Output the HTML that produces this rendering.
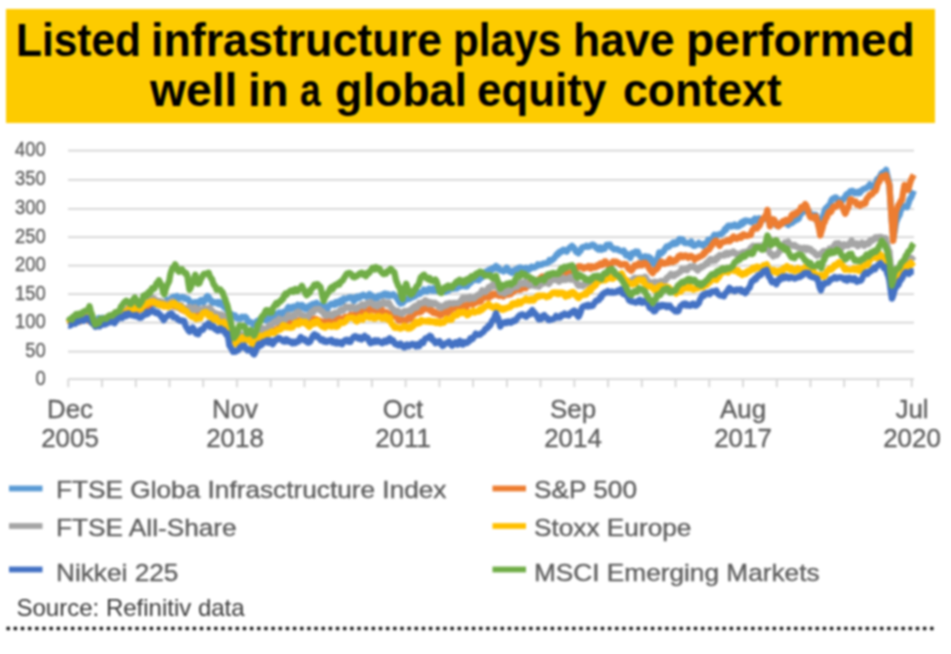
<!DOCTYPE html>
<html><head><meta charset="utf-8"><title>Listed infrastructure plays</title>
<style>
html,body{margin:0;padding:0;background:#fff;}
body{width:951px;height:654px;position:relative;overflow:hidden;font-family:"Liberation Sans",sans-serif;}
#wrap{position:absolute;left:0;top:0;width:951px;height:654px;overflow:hidden;filter:blur(0.95px);}
.t{position:absolute;white-space:nowrap;line-height:1;}
.banner{position:absolute;}
.title{font-weight:bold;font-size:46px;color:#000;transform-origin:0 50%;}
.ylab{font-size:20px;color:#5a5a5a;-webkit-text-stroke:0.3px #5a5a5a;text-align:right;transform:scaleX(0.92);transform-origin:100% 50%;}
.xlab{font-size:25.5px;color:#5c5c5c;-webkit-text-stroke:0.35px #5c5c5c;text-align:center;width:120px;line-height:28.5px;transform:scaleX(1.015);transform-origin:50% 50%;}
.leg{font-size:24.5px;color:#5c5c5c;-webkit-text-stroke:0.35px #5c5c5c;transform:scaleX(1.07);transform-origin:0 50%;}
.src{font-size:24.0px;color:#383838;transform-origin:0 50%;}
</style></head>
<body><div id="wrap">
<div class="banner" style="left:6px;top:9px;width:929px;height:114px;background:#FDCB00"></div>
<div class="t title" style="left:16.23px;top:16.5px;transform:scaleX(0.9225);">Listed</div>
<div class="t title" style="left:150.58px;top:16.5px;transform:scaleX(0.9722);">infrastructure</div>
<div class="t title" style="left:453.44px;top:16.5px;transform:scaleX(0.9204);">plays</div>
<div class="t title" style="left:572.80px;top:16.5px;transform:scaleX(0.9680);">have</div>
<div class="t title" style="left:686.28px;top:16.5px;transform:scaleX(1.0059);">performed</div>
<div class="t title" style="left:150.10px;top:67.0px;transform:scaleX(1.0048);">well</div>
<div class="t title" style="left:247.73px;top:67.0px;transform:scaleX(0.9914);">in</div>
<div class="t title" style="left:300.29px;top:67.0px;transform:scaleX(0.8080);">a</div>
<div class="t title" style="left:334.75px;top:67.0px;transform:scaleX(0.9746);">global</div>
<div class="t title" style="left:477.09px;top:67.0px;transform:scaleX(0.9549);">equity</div>
<div class="t title" style="left:622.96px;top:67.0px;transform:scaleX(0.9696);">context</div>
<svg width="951" height="654" viewBox="0 0 951 654" style="position:absolute;left:0;top:0">
<line x1="68.0" y1="150.70" x2="914.0" y2="150.70" stroke="#D4D4D4" stroke-width="1.80"/>
<line x1="68.0" y1="179.80" x2="914.0" y2="179.80" stroke="#D4D4D4" stroke-width="1.80"/>
<line x1="68.0" y1="208.90" x2="914.0" y2="208.90" stroke="#D4D4D4" stroke-width="1.80"/>
<line x1="68.0" y1="237.10" x2="914.0" y2="237.10" stroke="#D4D4D4" stroke-width="1.80"/>
<line x1="68.0" y1="265.70" x2="914.0" y2="265.70" stroke="#D4D4D4" stroke-width="1.80"/>
<line x1="68.0" y1="294.10" x2="914.0" y2="294.10" stroke="#D4D4D4" stroke-width="1.80"/>
<line x1="68.0" y1="322.70" x2="914.0" y2="322.70" stroke="#D4D4D4" stroke-width="1.80"/>
<line x1="68.0" y1="351.60" x2="914.0" y2="351.60" stroke="#D4D4D4" stroke-width="1.80"/>
<line x1="68.0" y1="379.20" x2="914.0" y2="379.20" stroke="#D4D4D4" stroke-width="1.80"/>
<line x1="68.30" y1="379.20" x2="68.30" y2="387.20" stroke="#D4D4D4" stroke-width="1.80"/>
<line x1="102.04" y1="379.20" x2="102.04" y2="387.20" stroke="#D4D4D4" stroke-width="1.80"/>
<line x1="135.77" y1="379.20" x2="135.77" y2="387.20" stroke="#D4D4D4" stroke-width="1.80"/>
<line x1="169.51" y1="379.20" x2="169.51" y2="387.20" stroke="#D4D4D4" stroke-width="1.80"/>
<line x1="203.24" y1="379.20" x2="203.24" y2="387.20" stroke="#D4D4D4" stroke-width="1.80"/>
<line x1="236.98" y1="379.20" x2="236.98" y2="387.20" stroke="#D4D4D4" stroke-width="1.80"/>
<line x1="270.72" y1="379.20" x2="270.72" y2="387.20" stroke="#D4D4D4" stroke-width="1.80"/>
<line x1="304.45" y1="379.20" x2="304.45" y2="387.20" stroke="#D4D4D4" stroke-width="1.80"/>
<line x1="338.19" y1="379.20" x2="338.19" y2="387.20" stroke="#D4D4D4" stroke-width="1.80"/>
<line x1="371.92" y1="379.20" x2="371.92" y2="387.20" stroke="#D4D4D4" stroke-width="1.80"/>
<line x1="405.66" y1="379.20" x2="405.66" y2="387.20" stroke="#D4D4D4" stroke-width="1.80"/>
<line x1="439.40" y1="379.20" x2="439.40" y2="387.20" stroke="#D4D4D4" stroke-width="1.80"/>
<line x1="473.13" y1="379.20" x2="473.13" y2="387.20" stroke="#D4D4D4" stroke-width="1.80"/>
<line x1="506.87" y1="379.20" x2="506.87" y2="387.20" stroke="#D4D4D4" stroke-width="1.80"/>
<line x1="540.60" y1="379.20" x2="540.60" y2="387.20" stroke="#D4D4D4" stroke-width="1.80"/>
<line x1="574.34" y1="379.20" x2="574.34" y2="387.20" stroke="#D4D4D4" stroke-width="1.80"/>
<line x1="608.08" y1="379.20" x2="608.08" y2="387.20" stroke="#D4D4D4" stroke-width="1.80"/>
<line x1="641.81" y1="379.20" x2="641.81" y2="387.20" stroke="#D4D4D4" stroke-width="1.80"/>
<line x1="675.55" y1="379.20" x2="675.55" y2="387.20" stroke="#D4D4D4" stroke-width="1.80"/>
<line x1="709.28" y1="379.20" x2="709.28" y2="387.20" stroke="#D4D4D4" stroke-width="1.80"/>
<line x1="743.02" y1="379.20" x2="743.02" y2="387.20" stroke="#D4D4D4" stroke-width="1.80"/>
<line x1="776.76" y1="379.20" x2="776.76" y2="387.20" stroke="#D4D4D4" stroke-width="1.80"/>
<line x1="810.49" y1="379.20" x2="810.49" y2="387.20" stroke="#D4D4D4" stroke-width="1.80"/>
<line x1="844.23" y1="379.20" x2="844.23" y2="387.20" stroke="#D4D4D4" stroke-width="1.80"/>
<line x1="877.96" y1="379.20" x2="877.96" y2="387.20" stroke="#D4D4D4" stroke-width="1.80"/>
<line x1="911.70" y1="379.20" x2="911.70" y2="387.20" stroke="#D4D4D4" stroke-width="1.80"/>
<path d="M68.6 320.7 L69.7 320.6 L70.7 321.5 L71.8 321.5 L72.9 321.4 L73.9 320.0 L75.0 320.4 L76.0 319.7 L77.0 317.7 L78.0 317.8 L79.0 316.4 L80.0 318.7 L81.0 320.0 L82.0 318.4 L83.0 316.7 L84.0 317.0 L85.0 314.8 L86.0 313.1 L87.0 311.9 L88.0 311.4 L89.0 313.8 L90.0 317.0 L91.0 316.6 L92.0 319.6 L93.0 320.5 L94.0 322.7 L95.0 324.2 L96.0 321.6 L97.0 321.7 L98.0 319.7 L99.0 317.9 L100.0 318.2 L101.0 319.5 L102.0 319.3 L103.0 317.8 L104.0 319.3 L105.0 320.2 L106.0 318.2 L107.0 317.7 L108.0 318.1 L109.0 319.1 L110.0 316.8 L111.0 317.0 L112.0 318.3 L113.0 317.6 L114.0 317.5 L115.0 317.5 L116.0 316.4 L117.0 314.8 L118.0 314.9 L119.0 314.6 L120.0 313.6 L121.0 314.7 L122.0 313.5 L123.0 313.1 L124.0 313.7 L125.0 314.1 L126.0 314.5 L127.0 313.7 L128.0 311.7 L129.0 312.6 L130.0 313.2 L131.0 312.8 L132.0 312.6 L133.0 311.6 L134.0 310.8 L135.0 310.6 L136.0 308.9 L137.0 309.7 L138.0 310.8 L139.0 308.7 L140.0 309.7 L141.0 309.8 L142.0 307.6 L143.0 306.1 L144.0 307.0 L145.0 306.1 L146.0 305.7 L147.0 306.5 L148.0 306.9 L149.0 307.4 L150.0 306.8 L151.0 305.7 L152.0 303.8 L153.0 303.0 L154.0 302.8 L155.0 303.8 L156.0 304.9 L157.0 303.6 L158.0 303.5 L159.0 305.3 L160.0 304.2 L161.0 304.4 L162.0 303.9 L163.0 303.6 L164.0 302.6 L165.0 302.0 L166.0 302.1 L167.0 299.9 L168.0 301.1 L169.0 301.9 L170.0 299.3 L171.0 298.3 L172.0 297.9 L173.0 297.0 L174.0 296.6 L175.0 298.1 L176.0 296.9 L177.0 296.0 L178.0 298.6 L179.0 297.9 L180.0 298.0 L181.0 297.7 L182.0 297.0 L183.0 297.7 L184.0 297.4 L185.0 298.9 L186.0 298.8 L187.0 298.6 L188.0 299.0 L189.0 300.2 L190.0 303.0 L191.0 303.2 L192.1 304.7 L193.1 303.5 L194.2 302.4 L195.2 303.5 L196.3 302.3 L197.3 304.5 L198.3 303.1 L199.3 301.6 L200.3 300.6 L201.3 300.0 L202.4 301.7 L203.4 302.7 L204.4 301.4 L205.4 299.3 L206.4 297.2 L207.4 296.1 L208.5 296.9 L209.6 298.9 L210.7 300.1 L211.7 301.8 L212.8 302.8 L213.9 301.9 L215.0 302.6 L216.0 302.3 L217.1 303.3 L218.2 302.0 L219.2 304.3 L220.3 302.2 L221.4 304.1 L222.6 304.5 L223.7 306.8 L224.9 306.2 L226.0 308.9 L227.0 308.2 L228.0 311.1 L229.0 313.3 L230.0 314.5 L231.0 313.8 L232.0 314.6 L233.0 315.5 L234.0 315.6 L235.2 315.4 L236.3 318.0 L237.4 318.6 L238.6 318.1 L239.7 318.5 L240.8 318.6 L241.9 316.7 L243.0 317.1 L244.1 317.2 L245.2 316.8 L246.4 317.9 L247.5 321.0 L248.7 322.2 L249.8 321.6 L251.0 322.2 L252.2 323.1 L253.3 324.7 L254.5 325.5 L255.7 323.0 L256.8 321.3 L258.0 321.7 L259.0 320.1 L260.0 319.4 L261.0 318.7 L262.0 318.0 L263.0 319.3 L264.0 318.0 L265.0 318.7 L266.0 320.4 L267.0 318.1 L268.2 319.1 L269.5 318.8 L270.7 317.1 L271.7 318.4 L272.8 318.1 L273.8 316.3 L274.9 316.9 L275.9 314.1 L277.0 314.9 L278.0 315.0 L279.1 312.5 L280.1 313.8 L281.2 313.9 L282.2 314.2 L283.3 311.9 L284.3 312.1 L285.4 312.2 L286.4 310.7 L287.5 308.6 L288.5 307.2 L289.6 308.1 L290.6 308.7 L291.7 307.3 L292.7 308.3 L293.7 306.5 L294.7 307.0 L295.8 307.2 L296.8 306.1 L297.8 304.8 L298.8 307.0 L299.9 307.9 L300.9 307.4 L301.9 304.9 L303.0 305.8 L304.1 308.1 L305.2 308.8 L306.3 309.1 L307.4 307.0 L308.4 307.3 L309.4 305.9 L310.5 307.7 L311.5 305.0 L312.5 304.1 L313.5 305.8 L314.6 303.8 L315.6 303.2 L316.6 302.7 L317.9 305.0 L319.2 305.7 L320.5 307.1 L321.5 305.6 L322.5 304.7 L323.5 305.3 L324.5 307.4 L325.5 308.3 L326.5 309.3 L327.5 308.8 L328.6 306.0 L329.6 305.2 L330.6 304.2 L331.6 303.6 L332.7 304.6 L333.7 304.1 L334.7 304.8 L335.7 302.2 L336.7 303.8 L337.8 301.8 L338.8 302.5 L339.8 303.0 L340.8 300.2 L341.9 300.2 L342.9 301.6 L343.9 298.6 L344.9 299.0 L345.9 298.9 L346.9 298.8 L347.9 298.0 L349.0 297.5 L350.0 297.6 L351.0 297.4 L352.0 297.6 L353.0 299.9 L354.0 301.0 L355.0 299.0 L356.1 297.0 L357.1 296.6 L358.1 298.3 L359.1 296.7 L360.2 297.4 L361.2 295.7 L362.2 295.5 L363.2 294.8 L364.3 295.9 L365.3 295.6 L366.4 296.8 L367.4 296.5 L368.5 295.9 L369.5 294.1 L370.7 296.7 L372.0 295.6 L373.2 296.9 L374.3 298.6 L375.3 298.7 L376.4 297.0 L377.4 297.9 L378.5 295.9 L379.5 295.7 L380.6 295.5 L381.6 295.9 L382.7 294.5 L383.7 294.1 L384.8 293.5 L385.8 295.3 L386.9 295.6 L387.9 294.2 L389.0 295.5 L390.1 295.8 L391.2 294.8 L392.3 295.3 L393.4 294.3 L394.6 295.8 L395.9 297.0 L397.1 298.5 L398.2 300.4 L399.4 302.4 L400.6 303.6 L401.7 302.1 L402.8 303.0 L403.8 301.0 L404.9 300.8 L406.0 300.0 L407.0 298.8 L408.1 298.6 L409.1 299.1 L410.2 298.4 L411.2 297.1 L412.3 297.4 L413.3 297.0 L414.4 295.1 L415.4 296.1 L416.5 294.3 L417.5 291.7 L418.6 293.5 L419.6 294.1 L420.7 292.7 L421.7 292.5 L422.8 292.0 L423.8 289.6 L424.9 290.6 L425.9 290.5 L427.0 291.5 L428.0 290.2 L429.1 288.6 L430.1 289.4 L431.2 289.3 L432.3 290.6 L433.4 288.3 L434.5 289.5 L435.6 291.0 L436.8 289.7 L437.9 288.8 L439.1 290.1 L440.2 291.5 L441.3 291.7 L442.3 291.2 L443.4 290.1 L444.5 290.7 L445.5 291.9 L446.6 290.7 L447.7 289.3 L448.7 290.5 L449.8 288.1 L450.9 288.0 L451.9 288.7 L453.0 288.8 L454.0 288.7 L455.0 288.3 L456.0 287.2 L457.0 288.4 L458.0 285.5 L459.0 285.3 L460.0 285.3 L461.0 286.4 L462.0 285.5 L463.0 284.8 L464.0 285.3 L465.0 286.4 L466.1 285.8 L467.1 286.4 L468.2 285.0 L469.2 283.0 L470.3 283.2 L471.4 282.0 L472.4 279.8 L473.5 279.6 L474.6 278.2 L475.6 279.1 L476.7 280.2 L477.8 279.9 L478.8 280.3 L479.9 277.3 L480.9 277.9 L482.0 277.6 L483.1 275.1 L484.2 274.3 L485.3 272.3 L486.3 271.4 L487.4 271.3 L488.5 270.3 L489.6 269.5 L490.7 270.1 L491.7 270.0 L492.8 267.8 L493.9 267.9 L494.9 268.5 L496.0 265.9 L497.1 268.4 L498.2 267.6 L499.2 269.2 L500.3 270.3 L501.4 270.1 L502.5 270.7 L503.6 271.5 L504.6 270.0 L505.6 269.6 L506.7 267.6 L507.8 269.1 L508.9 271.2 L510.0 271.9 L511.0 271.1 L512.1 272.9 L513.2 271.9 L514.3 270.3 L515.3 269.6 L516.4 271.0 L517.4 269.3 L518.5 267.8 L519.5 267.6 L520.6 267.5 L521.7 268.4 L522.8 268.8 L523.8 268.9 L524.9 268.1 L526.0 267.8 L527.1 269.7 L528.1 269.0 L529.2 269.7 L530.3 268.5 L531.3 266.6 L532.4 266.9 L533.5 267.6 L534.6 267.5 L535.6 266.8 L536.7 266.2 L537.8 264.4 L538.8 265.3 L539.9 264.6 L541.0 264.8 L542.0 264.6 L543.1 263.6 L544.2 263.4 L545.2 263.4 L546.3 263.3 L547.4 262.6 L548.5 262.4 L549.5 260.0 L550.6 260.9 L551.7 260.3 L552.7 259.4 L553.8 258.6 L554.9 257.3 L555.9 255.7 L557.0 254.1 L558.1 254.5 L559.1 252.0 L560.2 251.5 L561.3 252.0 L562.4 250.7 L563.5 249.7 L564.5 250.0 L565.6 250.8 L566.7 251.6 L567.8 250.0 L568.8 248.8 L569.9 247.4 L570.9 247.4 L572.0 245.8 L573.1 247.2 L574.2 247.9 L575.2 250.4 L576.3 252.2 L577.4 252.3 L578.5 253.2 L579.5 250.6 L580.6 250.8 L581.6 248.1 L582.7 247.1 L583.9 247.0 L585.2 246.8 L586.4 245.7 L587.5 246.8 L588.5 246.7 L589.6 246.4 L590.7 245.8 L591.8 244.8 L592.9 244.6 L593.9 245.6 L595.0 246.0 L596.1 247.9 L597.1 248.2 L598.2 249.5 L599.3 248.1 L600.3 247.4 L601.4 249.8 L602.5 248.5 L603.5 248.1 L604.6 248.8 L605.7 246.3 L606.7 244.8 L607.8 245.0 L608.9 244.9 L610.0 244.6 L611.0 247.0 L612.1 248.0 L613.2 248.4 L614.3 249.6 L615.4 249.0 L616.4 249.1 L617.5 249.1 L618.5 250.3 L619.6 250.4 L620.7 251.0 L621.7 251.4 L622.8 251.8 L623.9 250.7 L624.9 253.1 L626.0 255.3 L627.1 253.8 L628.2 255.7 L629.2 256.5 L630.3 257.9 L631.4 254.9 L632.4 253.0 L633.5 253.5 L634.6 253.5 L635.6 251.6 L636.7 252.6 L637.8 251.8 L638.9 254.5 L640.0 256.0 L641.0 256.9 L642.1 258.2 L643.2 257.1 L644.3 257.8 L645.3 256.2 L646.4 258.2 L647.4 257.5 L648.5 256.8 L649.5 259.2 L650.6 258.2 L651.7 260.6 L652.8 263.5 L653.9 264.1 L655.0 261.9 L656.0 260.6 L657.1 259.0 L658.1 256.3 L659.2 252.4 L660.3 253.9 L661.3 253.5 L662.4 252.1 L663.5 251.6 L664.5 249.6 L665.6 248.0 L666.7 246.4 L667.8 246.5 L668.9 246.9 L669.9 245.3 L671.0 244.4 L672.1 244.4 L673.2 242.6 L674.2 244.1 L675.3 242.3 L676.3 243.7 L677.4 242.8 L678.4 241.1 L679.5 239.0 L680.6 240.4 L681.6 239.1 L682.7 239.5 L683.8 242.2 L684.9 243.1 L685.9 243.2 L687.0 242.9 L688.1 242.8 L689.1 243.2 L690.2 243.9 L691.3 241.4 L692.4 243.8 L693.5 245.8 L694.5 245.9 L695.6 245.4 L696.7 244.5 L697.8 244.3 L698.8 242.9 L699.9 244.3 L701.0 244.6 L702.0 245.1 L703.1 245.7 L704.1 243.6 L705.2 243.7 L706.2 243.5 L707.2 242.5 L708.2 239.8 L709.3 241.0 L710.3 240.2 L711.3 239.1 L712.3 239.5 L713.3 236.8 L714.4 234.7 L715.4 235.5 L716.4 235.8 L717.5 235.0 L718.5 234.3 L719.6 234.4 L720.7 234.3 L721.7 233.3 L722.8 232.7 L723.9 231.3 L724.9 229.0 L726.0 229.7 L727.1 227.1 L728.2 225.8 L729.2 226.2 L730.3 225.5 L731.4 226.6 L732.5 225.5 L733.5 225.5 L734.6 224.5 L735.7 226.3 L736.7 225.5 L737.8 226.4 L738.9 226.3 L739.9 225.0 L741.0 222.7 L742.1 224.3 L743.2 221.5 L744.2 222.6 L745.3 220.5 L746.4 220.6 L747.4 220.8 L748.5 220.8 L749.6 221.4 L750.7 222.0 L751.7 222.4 L752.8 220.4 L753.9 219.8 L754.9 218.7 L756.0 220.6 L757.1 219.8 L758.1 220.8 L759.2 218.3 L760.4 219.5 L761.6 219.9 L762.8 219.6 L764.0 219.3 L765.1 217.4 L766.3 216.2 L767.4 212.8 L768.7 218.5 L770.0 225.8 L771.0 222.5 L772.0 220.2 L773.0 220.1 L774.1 220.4 L775.3 221.5 L776.4 225.4 L777.5 225.0 L778.5 226.1 L779.6 225.2 L780.7 223.4 L781.7 223.5 L782.8 222.5 L783.9 223.2 L784.9 222.1 L786.0 221.1 L787.1 223.7 L788.2 225.0 L789.2 223.3 L790.3 222.3 L791.4 223.2 L792.4 222.7 L793.5 221.0 L794.5 221.0 L795.6 220.4 L796.7 219.8 L797.8 219.4 L798.9 218.4 L799.9 214.5 L801.0 214.2 L802.1 211.7 L803.1 212.2 L804.2 211.6 L805.2 209.7 L806.3 207.5 L807.4 209.9 L808.5 210.8 L809.5 213.6 L810.6 217.0 L811.7 214.6 L812.8 214.7 L813.8 216.3 L814.9 215.0 L816.0 215.0 L817.1 220.4 L818.1 224.1 L819.2 226.7 L820.3 230.4 L821.4 224.2 L822.4 218.6 L823.5 214.5 L824.6 211.0 L825.6 208.4 L826.7 208.1 L827.8 206.3 L828.8 205.4 L829.9 205.0 L830.9 201.5 L832.0 199.3 L833.1 198.5 L834.2 198.1 L835.2 197.4 L836.3 197.6 L837.4 200.1 L838.5 201.3 L839.6 200.8 L840.6 199.8 L841.7 199.8 L842.7 200.4 L843.8 198.0 L844.9 197.7 L846.0 195.0 L847.0 194.0 L848.1 193.5 L849.2 193.3 L850.3 191.2 L851.4 191.5 L852.4 190.8 L853.5 191.3 L854.6 193.2 L855.7 192.3 L856.7 192.2 L857.8 193.2 L858.9 191.5 L860.0 192.8 L861.1 191.2 L862.2 190.0 L863.4 189.1 L864.5 188.8 L865.6 188.3 L866.7 187.6 L867.8 187.1 L868.8 185.8 L869.9 184.4 L870.9 186.3 L872.0 187.0 L873.0 186.6 L874.0 185.1 L875.0 185.7 L876.0 182.6 L877.2 179.1 L878.3 179.4 L879.5 177.2 L880.6 175.1 L881.8 173.0 L882.9 172.7 L884.0 171.9 L885.0 171.3 L886.1 169.8 L887.2 175.1 L888.3 179.7 L889.4 185.0 L890.6 204.6 L891.9 221.8 L893.5 237.7 L894.8 230.4 L896.0 223.0 L897.2 219.5 L898.4 216.8 L899.5 215.1 L900.7 210.4 L901.8 208.8 L902.8 207.6 L903.9 206.1 L904.9 206.5 L906.0 206.3 L907.0 207.2 L908.0 204.8 L909.0 201.6 L910.1 198.5 L911.1 197.8 L912.1 195.0 L913.8 190.6" fill="none" stroke="#5B9BD5" stroke-width="6.30" stroke-linejoin="round" stroke-linecap="butt"/>
<path d="M68.6 322.3 L69.6 320.9 L70.7 322.8 L71.8 323.6 L72.8 322.3 L73.8 322.2 L74.9 320.5 L76.0 319.5 L77.0 319.1 L78.1 320.4 L79.2 319.3 L80.3 321.4 L81.4 319.3 L82.4 318.6 L83.5 317.8 L84.6 319.8 L85.7 319.4 L86.8 319.5 L87.8 319.7 L88.8 321.1 L89.9 321.3 L90.9 321.0 L91.9 321.9 L93.0 322.2 L94.0 321.9 L95.0 324.5 L96.0 324.7 L97.0 324.6 L98.0 325.1 L99.0 323.4 L100.0 322.2 L101.0 321.6 L102.0 320.9 L103.0 321.3 L104.0 319.1 L105.0 319.3 L106.0 319.6 L107.0 318.9 L108.0 317.2 L109.0 318.6 L110.0 316.7 L111.0 317.5 L112.0 316.3 L113.0 314.8 L114.0 314.2 L115.0 313.2 L116.0 312.7 L117.0 314.0 L118.0 314.7 L119.0 313.4 L120.0 313.5 L121.0 312.7 L122.0 312.0 L123.0 313.0 L124.0 311.4 L125.0 312.4 L126.0 312.1 L127.0 311.8 L128.0 309.1 L129.0 307.7 L130.0 306.6 L131.0 307.0 L132.0 309.2 L133.0 310.3 L134.0 310.7 L135.0 308.2 L136.0 309.0 L137.0 309.6 L138.0 310.0 L139.0 310.1 L140.0 307.8 L141.0 306.6 L142.0 308.1 L143.0 308.2 L144.0 308.6 L145.0 306.9 L146.0 307.3 L147.0 304.6 L148.0 305.8 L149.0 305.9 L150.0 303.8 L151.0 301.4 L152.0 301.5 L153.0 302.7 L154.0 302.2 L155.0 301.0 L156.0 301.3 L157.0 303.5 L158.0 302.2 L159.0 304.7 L160.0 303.7 L161.0 303.1 L162.0 302.6 L163.0 305.2 L164.0 306.4 L165.0 304.9 L166.0 303.3 L167.0 304.4 L168.0 305.9 L169.0 303.5 L170.0 304.4 L171.0 305.7 L172.0 305.0 L173.0 305.4 L174.0 306.7 L175.0 305.5 L176.0 305.2 L177.0 306.6 L178.0 307.2 L179.0 307.6 L180.0 307.3 L181.0 309.5 L182.0 308.5 L183.0 309.5 L184.0 310.9 L185.0 310.1 L186.0 308.5 L187.0 308.4 L188.0 307.9 L189.0 308.1 L190.0 308.2 L191.0 309.2 L192.0 309.9 L193.0 310.8 L194.0 312.1 L195.0 313.1 L196.0 313.7 L197.0 313.1 L198.1 313.4 L199.1 313.1 L200.2 311.3 L201.2 311.7 L202.3 311.0 L203.3 311.8 L204.4 312.4 L205.4 310.8 L206.5 310.5 L207.6 311.3 L208.6 311.5 L209.7 311.0 L210.8 311.0 L211.9 314.8 L212.9 316.3 L214.0 316.3 L215.0 317.1 L216.0 316.2 L217.0 317.4 L218.0 319.1 L219.0 319.5 L220.0 318.8 L221.0 320.4 L222.0 321.2 L223.0 318.6 L224.0 318.6 L225.0 320.6 L226.0 322.0 L227.0 324.9 L228.0 325.6 L229.0 329.6 L230.0 333.4 L231.0 333.7 L232.0 337.2 L233.0 337.3 L234.0 339.1 L235.0 340.7 L236.0 343.1 L237.0 342.7 L238.0 340.7 L239.0 340.7 L240.0 338.4 L241.0 338.9 L242.0 337.9 L243.0 337.5 L244.0 337.2 L245.0 337.2 L246.0 339.4 L247.0 338.3 L248.0 338.3 L249.0 338.4 L250.0 338.6 L251.0 341.0 L252.0 342.1 L253.0 343.1 L254.0 343.2 L255.0 341.1 L256.0 338.0 L257.0 336.3 L258.0 336.1 L259.0 336.8 L260.0 337.8 L261.0 336.7 L262.0 334.8 L263.0 334.9 L264.0 336.0 L265.0 334.3 L266.0 335.4 L267.0 335.7 L268.0 334.5 L269.0 333.4 L270.0 331.3 L271.0 330.0 L272.0 328.8 L273.0 329.7 L274.0 330.2 L275.0 331.1 L276.0 329.9 L277.0 330.3 L278.0 328.1 L279.1 325.9 L280.1 324.3 L281.2 324.1 L282.2 324.7 L283.3 326.5 L284.3 324.8 L285.4 323.5 L286.4 324.5 L287.5 323.7 L288.5 323.7 L289.6 322.1 L290.6 323.7 L291.7 324.6 L292.7 324.4 L293.7 325.0 L294.8 323.0 L295.8 320.8 L296.8 320.5 L297.9 322.4 L298.9 321.9 L299.9 320.5 L300.9 319.5 L302.0 319.0 L303.0 319.6 L304.0 322.0 L305.0 323.3 L306.0 323.7 L307.0 324.0 L308.0 322.2 L309.0 323.5 L310.1 321.5 L311.2 321.3 L312.3 319.1 L313.3 320.8 L314.4 318.8 L315.5 319.1 L316.6 319.2 L317.7 320.2 L318.9 321.1 L320.0 320.7 L321.0 321.7 L322.0 322.8 L323.0 322.2 L324.0 323.2 L325.0 323.3 L326.0 320.5 L327.0 321.2 L328.0 319.4 L329.0 320.5 L330.0 320.1 L331.0 321.6 L332.0 319.3 L333.0 321.2 L334.1 318.9 L335.1 317.6 L336.1 316.6 L337.1 316.4 L338.2 319.3 L339.2 320.3 L340.2 321.0 L341.2 318.5 L342.3 318.7 L343.3 319.1 L344.4 318.9 L345.4 316.9 L346.5 318.2 L347.5 317.9 L348.5 317.4 L349.5 315.6 L350.6 314.9 L351.6 315.6 L352.6 315.0 L353.6 314.5 L354.7 315.6 L355.7 314.2 L356.7 314.9 L357.7 312.4 L358.7 312.6 L359.8 313.3 L360.8 311.1 L361.8 312.2 L362.8 311.3 L363.9 311.9 L364.9 312.1 L365.9 310.4 L366.9 312.3 L367.9 310.8 L368.9 309.5 L369.9 309.8 L370.9 308.5 L371.9 307.9 L372.9 309.8 L373.9 308.4 L374.9 309.1 L375.9 310.7 L376.9 310.0 L378.0 311.1 L379.1 311.9 L380.1 310.0 L381.2 308.7 L382.3 310.6 L383.4 312.0 L384.5 312.8 L385.6 312.9 L386.6 312.2 L387.7 313.6 L388.8 313.6 L389.9 314.4 L390.9 315.7 L392.0 313.6 L393.1 315.4 L394.1 316.1 L395.2 314.7 L396.4 316.0 L397.7 319.0 L398.9 320.6 L400.0 320.5 L401.1 319.3 L402.2 319.4 L403.3 320.5 L404.4 321.2 L405.5 320.3 L406.6 320.5 L407.7 318.2 L408.8 317.2 L409.9 318.1 L410.9 318.8 L412.0 316.3 L413.0 314.7 L414.1 314.7 L415.1 313.6 L416.2 312.1 L417.2 311.0 L418.3 311.2 L419.3 312.4 L420.4 310.6 L421.4 311.7 L422.5 309.4 L423.5 308.5 L424.6 309.3 L425.6 307.8 L426.7 308.2 L427.7 307.9 L428.8 308.0 L429.8 310.5 L430.9 309.3 L431.9 310.8 L432.9 312.6 L434.0 311.5 L435.0 313.2 L436.0 312.5 L437.1 313.9 L438.1 314.1 L439.2 313.7 L440.2 315.6 L441.2 315.2 L442.2 313.4 L443.3 313.2 L444.3 311.8 L445.3 310.9 L446.3 312.5 L447.4 313.3 L448.4 310.6 L449.5 311.6 L450.5 311.1 L451.6 308.1 L452.6 306.6 L453.7 306.7 L454.7 308.1 L455.8 308.6 L457.2 306.3 L458.6 305.4 L459.7 307.0 L460.7 305.3 L461.8 304.0 L462.9 304.4 L464.0 305.6 L465.0 306.9 L466.1 307.7 L467.2 305.0 L468.2 304.1 L469.3 303.4 L470.4 304.1 L471.4 303.5 L472.5 304.7 L473.6 304.0 L474.6 303.3 L475.7 302.8 L476.7 300.6 L477.8 301.5 L478.9 301.8 L479.9 301.7 L481.0 301.3 L482.1 298.6 L483.1 296.6 L484.2 296.4 L485.3 297.3 L486.4 295.8 L487.4 297.2 L488.5 297.7 L489.6 297.3 L490.6 296.2 L491.7 294.3 L492.8 295.5 L493.9 293.7 L494.9 293.7 L496.0 294.6 L497.1 295.1 L498.1 294.0 L499.2 295.9 L500.3 295.1 L501.4 295.1 L502.4 295.3 L503.5 296.5 L504.6 294.1 L505.6 294.7 L506.7 294.2 L507.8 294.8 L508.9 293.4 L510.0 293.1 L511.0 294.1 L512.1 291.1 L513.2 292.0 L514.2 291.2 L515.3 289.9 L516.4 289.0 L517.4 288.1 L518.5 289.6 L519.5 288.0 L520.6 289.7 L521.7 288.8 L522.7 287.3 L523.8 288.0 L524.8 287.5 L525.9 288.1 L526.9 285.6 L528.0 286.0 L529.0 283.6 L530.0 282.6 L531.0 282.6 L532.0 282.1 L533.0 281.4 L534.0 281.9 L535.0 282.6 L536.0 281.4 L537.0 280.7 L538.0 281.1 L539.1 279.0 L540.1 280.3 L541.1 277.3 L542.1 276.6 L543.2 278.1 L544.4 276.8 L545.5 276.4 L546.6 275.5 L547.7 277.9 L548.9 278.9 L550.0 276.5 L551.0 276.6 L552.0 275.2 L553.0 273.9 L554.0 273.8 L555.0 275.4 L556.0 275.5 L557.0 274.6 L558.1 275.2 L559.2 273.6 L560.2 273.6 L561.3 272.7 L562.4 274.7 L563.5 274.1 L564.6 274.9 L565.6 273.9 L566.7 273.6 L567.8 273.9 L568.8 272.8 L569.9 273.2 L570.9 273.9 L572.0 271.7 L573.0 270.7 L574.0 269.3 L575.1 269.6 L576.2 267.9 L577.4 268.0 L578.5 266.3 L579.6 266.9 L580.6 266.2 L581.7 267.3 L582.8 268.0 L583.8 268.7 L584.9 267.2 L586.2 267.7 L587.5 267.7 L588.6 266.2 L589.6 267.8 L590.7 268.6 L591.8 266.2 L592.9 267.2 L593.9 267.5 L595.0 267.5 L596.1 267.2 L597.1 265.3 L598.2 266.0 L599.3 265.7 L600.3 263.4 L601.4 264.7 L602.5 265.0 L603.5 262.8 L604.6 261.5 L605.7 261.4 L606.8 263.1 L607.9 264.4 L608.9 265.9 L610.0 266.6 L611.1 264.2 L612.1 262.7 L613.2 261.4 L614.2 261.6 L615.3 261.8 L616.4 261.6 L617.4 262.9 L618.5 262.8 L619.6 263.9 L620.6 264.8 L621.7 265.1 L622.8 264.5 L623.9 263.9 L624.9 264.2 L626.0 264.2 L627.1 266.1 L628.2 268.4 L629.2 269.6 L630.3 269.3 L631.4 270.8 L632.5 269.5 L633.5 267.1 L634.6 265.2 L635.7 265.0 L636.7 266.1 L637.8 265.4 L638.9 263.3 L639.9 265.2 L641.0 265.5 L642.1 265.3 L643.2 263.0 L644.2 262.9 L645.3 262.9 L646.4 264.6 L647.4 264.9 L648.5 267.4 L649.6 269.2 L650.7 270.9 L651.7 271.9 L652.8 273.2 L653.9 270.1 L654.9 270.3 L656.0 269.9 L657.0 269.0 L658.1 267.4 L659.2 264.9 L660.2 263.5 L661.3 261.5 L662.4 262.8 L663.5 263.5 L664.5 263.9 L665.6 262.6 L666.7 262.8 L667.8 263.0 L668.8 260.5 L669.9 258.8 L671.0 260.8 L672.1 262.1 L673.1 261.9 L674.2 261.3 L675.3 259.8 L676.3 260.4 L677.4 258.4 L678.5 256.2 L679.5 257.5 L680.6 255.2 L681.7 256.7 L682.8 257.2 L683.8 255.6 L684.9 255.9 L686.0 255.4 L687.1 257.1 L688.1 257.9 L689.2 256.8 L690.3 255.8 L691.3 256.1 L692.4 256.7 L693.5 257.8 L694.6 259.8 L695.6 258.8 L696.7 257.7 L697.8 257.8 L698.8 256.7 L699.9 256.9 L701.0 256.2 L702.0 255.1 L703.1 255.0 L704.1 252.5 L705.2 253.0 L706.2 250.7 L707.2 250.3 L708.2 250.0 L709.3 249.4 L710.3 247.3 L711.3 246.3 L712.3 244.6 L713.4 243.0 L714.4 242.0 L715.4 240.8 L716.5 240.6 L717.5 242.4 L718.6 244.5 L719.6 245.9 L720.7 244.1 L721.8 242.4 L722.9 241.7 L723.9 241.8 L725.0 241.8 L726.1 241.2 L727.1 240.2 L728.2 241.2 L729.3 241.3 L730.4 240.8 L731.4 238.5 L732.5 239.0 L733.5 236.5 L734.6 238.3 L735.7 238.2 L736.7 238.9 L737.8 237.4 L738.9 237.7 L739.9 236.2 L741.0 237.8 L742.1 236.0 L743.2 234.4 L744.2 234.5 L745.3 236.0 L746.4 235.5 L747.4 235.9 L748.5 235.3 L749.6 235.0 L750.7 235.1 L751.7 231.6 L752.8 229.5 L753.9 228.7 L754.9 227.4 L756.0 227.8 L757.1 228.4 L758.1 226.4 L759.2 226.1 L760.3 223.9 L761.4 221.1 L762.4 219.7 L763.5 218.3 L764.8 216.7 L766.1 215.3 L767.4 209.9 L768.6 218.2 L769.9 226.3 L771.0 224.1 L772.1 219.9 L773.2 219.2 L774.2 219.8 L775.3 222.1 L776.4 223.6 L777.4 225.8 L778.5 226.3 L779.6 225.2 L780.6 223.2 L781.7 223.9 L782.8 221.2 L783.9 222.4 L784.9 221.8 L786.0 219.7 L787.1 221.0 L788.1 221.0 L789.2 219.5 L790.3 219.1 L791.3 215.9 L792.4 214.4 L793.5 213.9 L794.5 214.9 L795.6 213.0 L796.7 213.6 L797.8 212.0 L798.8 211.1 L799.9 210.4 L801.0 207.2 L802.1 208.4 L803.1 207.7 L804.2 205.4 L805.2 204.1 L806.3 205.5 L807.4 208.3 L808.5 212.4 L809.5 215.6 L810.6 217.4 L811.7 216.5 L812.8 217.2 L813.8 218.4 L814.9 216.6 L816.0 216.4 L817.1 220.2 L818.1 224.5 L819.2 229.3 L820.3 235.5 L821.4 231.5 L822.6 227.8 L823.7 222.9 L824.7 222.1 L825.7 218.3 L826.8 217.5 L827.8 214.3 L828.8 212.0 L829.8 211.3 L830.8 212.2 L831.9 210.3 L832.9 207.3 L833.9 206.4 L835.0 206.6 L836.0 206.9 L837.0 204.9 L838.1 204.0 L839.2 202.8 L840.2 203.2 L841.2 205.0 L842.2 206.5 L843.2 208.9 L844.2 211.8 L845.2 213.7 L846.2 211.9 L847.2 208.6 L848.3 207.6 L849.3 203.1 L850.3 199.4 L851.4 199.4 L852.4 201.0 L853.5 201.6 L854.6 201.8 L855.7 201.5 L856.7 204.4 L857.8 203.6 L858.9 204.4 L860.0 205.8 L861.1 203.7 L862.1 203.6 L863.2 204.3 L864.3 202.9 L865.4 203.5 L866.4 199.3 L867.4 198.0 L868.5 197.3 L869.5 195.1 L870.5 194.3 L871.5 194.6 L872.5 193.9 L873.5 191.9 L874.5 191.3 L875.5 191.2 L876.5 188.9 L877.5 184.8 L878.5 182.3 L879.5 181.6 L880.5 178.6 L881.6 176.6 L882.7 177.7 L883.9 176.0 L885.0 176.1 L886.1 175.0 L887.2 179.2 L888.3 182.1 L889.4 184.9 L890.6 203.7 L891.9 223.6 L893.2 240.9 L894.5 227.3 L895.7 211.6 L897.0 208.7 L898.2 205.3 L899.5 203.7 L900.8 200.7 L902.0 200.2 L903.2 192.0 L904.5 184.9 L905.8 185.6 L907.0 187.2 L908.3 189.9 L909.6 184.6 L910.8 180.8 L912.1 177.9 L913.8 174.8" fill="none" stroke="#ED7D31" stroke-width="6.30" stroke-linejoin="round" stroke-linecap="butt"/>
<path d="M68.6 320.7 L69.6 321.5 L70.7 320.2 L71.8 321.3 L72.8 321.4 L73.8 320.6 L74.9 320.8 L76.0 320.7 L77.0 318.6 L78.0 319.0 L79.0 319.4 L80.0 319.1 L81.0 320.0 L82.0 319.9 L83.0 318.4 L84.0 316.8 L85.0 315.5 L86.0 317.0 L87.0 317.3 L88.0 318.3 L89.0 318.6 L90.0 319.4 L91.0 319.3 L92.0 320.8 L93.0 320.6 L94.0 322.7 L95.0 324.3 L96.0 324.3 L97.0 322.5 L98.0 320.8 L99.0 320.4 L100.0 321.3 L101.0 320.9 L102.0 321.4 L103.0 320.2 L104.0 319.4 L105.0 320.7 L106.0 318.5 L107.0 317.4 L108.0 317.9 L109.0 318.3 L110.0 317.6 L111.0 317.5 L112.0 316.9 L113.0 316.9 L114.0 317.4 L115.0 317.1 L116.0 316.0 L117.0 314.5 L118.0 315.1 L119.0 313.4 L120.0 312.7 L121.0 313.0 L122.0 312.1 L123.0 310.7 L124.0 311.0 L125.0 310.5 L126.0 311.2 L127.0 310.4 L128.0 309.5 L129.0 310.5 L130.0 309.3 L131.0 308.0 L132.0 309.1 L133.0 309.8 L134.0 307.3 L135.0 305.6 L136.0 307.4 L137.0 308.4 L138.0 307.1 L139.0 305.9 L140.0 306.8 L141.0 308.1 L142.0 306.2 L143.0 305.4 L144.0 305.5 L145.0 303.8 L146.0 303.2 L147.0 301.7 L148.0 301.8 L149.0 300.7 L150.0 299.3 L151.0 299.4 L152.0 298.3 L153.0 298.2 L154.0 298.4 L155.0 299.5 L156.0 299.9 L157.0 301.8 L158.0 301.8 L159.0 301.3 L160.0 300.9 L161.0 301.2 L162.0 303.1 L163.0 302.0 L164.0 302.4 L165.0 303.8 L166.0 304.7 L167.0 303.8 L168.0 304.7 L169.0 304.4 L170.0 302.8 L171.0 301.4 L172.0 300.9 L173.0 303.3 L174.0 303.3 L175.0 305.2 L176.0 306.8 L177.0 307.7 L178.0 306.8 L179.0 304.8 L180.0 304.9 L181.0 304.9 L182.0 306.6 L183.0 307.5 L184.0 308.8 L185.0 308.8 L186.0 309.6 L187.0 309.0 L188.0 308.0 L189.0 308.8 L190.0 307.1 L191.0 308.4 L192.0 309.1 L193.0 310.2 L194.0 308.0 L195.0 307.4 L196.0 310.0 L197.0 308.7 L198.1 308.8 L199.1 309.3 L200.2 309.2 L201.2 310.5 L202.3 311.4 L203.3 309.7 L204.4 308.0 L205.4 309.8 L206.5 309.1 L207.5 308.5 L208.5 308.0 L209.5 307.5 L210.5 309.5 L211.5 309.8 L212.5 311.1 L213.5 313.4 L214.5 313.3 L215.5 315.2 L216.5 313.2 L217.5 314.9 L218.6 315.6 L219.6 316.9 L220.7 314.3 L221.8 314.6 L222.8 315.0 L223.9 315.5 L224.9 316.9 L225.9 317.8 L227.0 321.3 L228.0 323.9 L229.0 326.8 L230.0 330.6 L231.0 332.6 L232.0 331.9 L233.0 334.4 L234.0 334.3 L235.0 337.2 L236.0 337.5 L237.0 335.9 L238.0 334.8 L239.0 333.7 L240.0 333.5 L241.0 336.7 L242.0 335.9 L243.0 337.9 L244.0 336.5 L245.0 336.6 L246.0 337.3 L247.0 337.5 L248.0 339.9 L249.0 338.7 L250.0 339.1 L251.0 338.5 L252.0 337.9 L253.0 338.6 L254.0 337.2 L255.0 336.5 L256.0 336.4 L257.0 333.8 L258.1 331.2 L259.3 331.4 L260.5 331.9 L261.6 328.0 L262.6 327.8 L263.6 329.5 L264.6 329.6 L265.6 330.1 L266.7 328.5 L267.7 329.1 L268.7 325.9 L269.7 325.4 L270.7 326.3 L271.7 324.7 L272.8 323.5 L273.8 322.6 L274.9 321.5 L275.9 322.1 L277.0 322.6 L278.0 319.9 L279.1 318.8 L280.1 319.7 L281.2 319.9 L282.2 320.0 L283.3 319.4 L284.3 319.8 L285.4 319.6 L286.4 318.6 L287.4 316.6 L288.5 314.7 L289.5 316.3 L290.5 317.0 L291.5 317.4 L292.6 315.2 L293.6 315.6 L294.6 316.3 L295.6 314.2 L296.6 312.4 L297.7 311.8 L298.7 311.6 L299.7 313.2 L300.7 314.5 L301.8 315.1 L302.8 315.0 L303.8 315.9 L305.0 317.0 L306.2 316.0 L307.4 317.4 L308.4 316.6 L309.4 314.1 L310.5 313.7 L311.5 311.7 L312.5 311.2 L313.5 312.1 L314.6 309.4 L315.6 309.6 L316.6 309.0 L317.9 309.2 L319.2 308.9 L320.5 310.7 L321.5 311.4 L322.5 311.4 L323.5 312.9 L324.5 315.1 L325.5 314.5 L326.5 315.9 L327.5 314.1 L328.6 314.3 L329.6 313.9 L330.6 315.3 L331.6 316.1 L332.7 315.8 L333.7 313.9 L334.7 312.8 L335.7 313.7 L336.7 312.8 L337.8 312.5 L338.8 312.5 L339.8 310.3 L340.8 309.6 L341.9 311.0 L342.9 309.3 L343.9 310.0 L344.9 308.1 L345.9 306.5 L346.9 307.3 L347.9 306.9 L349.0 307.8 L350.0 308.8 L351.0 306.7 L352.0 307.2 L353.0 307.0 L354.0 308.5 L355.0 309.0 L356.1 309.2 L357.1 308.7 L358.1 306.9 L359.1 306.7 L360.2 306.2 L361.2 305.2 L362.2 304.2 L363.2 304.9 L364.3 306.2 L365.3 304.5 L366.4 303.9 L367.4 302.8 L368.5 302.9 L369.5 303.0 L370.6 302.2 L371.7 303.8 L372.8 303.7 L373.9 305.4 L375.0 304.4 L376.1 305.3 L377.1 306.5 L378.2 304.1 L379.2 303.5 L380.3 305.1 L381.3 303.9 L382.4 302.8 L383.4 301.7 L384.5 303.6 L385.5 302.8 L386.6 304.3 L387.6 304.0 L388.7 302.5 L389.7 304.6 L390.9 306.8 L392.0 308.1 L393.1 308.9 L394.3 310.5 L395.4 312.2 L396.6 310.9 L397.8 310.7 L398.9 312.9 L400.0 312.2 L401.1 313.8 L402.2 314.0 L403.3 312.9 L404.4 311.0 L405.4 311.2 L406.5 311.1 L407.5 310.8 L408.6 311.2 L409.6 310.1 L410.7 310.9 L411.7 310.0 L412.8 307.5 L413.8 308.3 L414.9 306.0 L415.9 307.1 L417.0 307.5 L418.0 304.8 L419.1 303.1 L420.1 303.9 L421.2 303.3 L422.2 302.5 L423.3 303.2 L424.3 301.9 L425.4 300.3 L426.4 300.8 L427.5 302.7 L428.5 304.1 L429.6 302.0 L430.6 303.2 L431.7 302.5 L432.7 304.5 L433.8 303.7 L434.9 302.8 L435.9 303.5 L437.0 304.9 L438.1 304.8 L439.1 307.2 L440.2 307.3 L441.2 307.9 L442.2 306.2 L443.3 306.0 L444.3 306.3 L445.3 304.6 L446.3 303.8 L447.4 305.1 L448.4 304.0 L449.5 303.0 L450.5 303.2 L451.6 303.3 L452.6 303.8 L453.7 302.8 L454.7 303.0 L455.8 303.1 L457.0 303.1 L458.2 303.0 L459.5 302.0 L460.7 301.2 L461.8 299.7 L462.8 297.8 L463.9 299.5 L465.0 298.6 L466.0 297.7 L467.1 297.9 L468.2 298.6 L469.3 299.2 L470.3 296.8 L471.4 297.9 L472.5 298.4 L473.5 298.6 L474.6 298.2 L475.7 296.4 L476.8 296.2 L477.9 294.7 L478.9 294.6 L480.0 294.7 L481.1 292.5 L482.1 290.2 L483.2 291.0 L484.2 292.0 L485.3 292.2 L486.4 290.5 L487.4 289.4 L488.5 287.4 L489.6 288.7 L490.6 287.1 L491.7 285.5 L492.8 284.4 L493.9 286.5 L494.9 285.6 L496.0 286.3 L497.1 285.8 L498.2 287.7 L499.2 290.3 L500.3 292.6 L501.4 292.4 L502.5 292.1 L503.5 293.0 L504.6 293.6 L505.7 290.8 L506.8 290.9 L507.9 291.9 L508.9 291.2 L510.0 291.3 L511.1 289.3 L512.1 288.6 L513.2 286.3 L514.2 287.6 L515.3 287.2 L516.4 285.4 L517.4 286.9 L518.5 284.8 L519.5 282.8 L520.6 283.9 L521.7 282.5 L522.8 283.9 L523.8 282.7 L524.9 281.7 L526.0 283.7 L527.1 284.3 L528.1 284.8 L529.2 285.3 L530.3 285.7 L531.4 284.0 L532.5 284.0 L533.6 284.7 L534.7 286.1 L535.8 286.1 L536.9 285.6 L538.0 286.5 L539.0 286.8 L540.1 284.7 L541.1 283.1 L542.2 281.5 L543.2 283.6 L544.3 282.3 L545.4 282.7 L546.4 282.6 L547.5 282.9 L548.5 284.0 L549.6 283.3 L550.6 281.0 L551.7 280.5 L552.8 279.1 L553.8 278.9 L554.9 279.9 L555.9 280.0 L557.0 279.7 L558.1 280.7 L559.1 281.7 L560.2 279.5 L561.3 280.0 L562.4 280.0 L563.5 277.8 L564.5 280.1 L565.6 279.2 L566.7 279.7 L567.7 278.4 L568.8 278.3 L569.9 277.2 L571.0 279.7 L572.0 277.7 L573.1 276.7 L574.2 279.6 L575.3 281.1 L576.3 281.5 L577.4 284.4 L578.5 285.6 L579.6 284.6 L580.6 285.0 L581.7 285.9 L582.8 286.1 L583.8 284.3 L584.9 284.7 L585.9 282.7 L586.9 282.1 L587.9 283.7 L589.0 283.6 L590.0 282.2 L591.0 281.8 L592.0 281.0 L593.0 281.5 L594.0 281.0 L595.0 280.4 L596.0 279.8 L597.0 281.0 L598.0 281.3 L599.0 279.3 L600.0 278.7 L601.0 279.8 L602.0 279.5 L603.0 278.7 L604.0 278.1 L605.0 276.0 L606.0 276.0 L607.0 276.4 L608.0 275.3 L609.0 274.9 L610.0 274.9 L611.0 275.5 L612.0 274.6 L613.0 276.3 L614.0 274.5 L615.0 276.2 L616.0 276.3 L617.0 275.6 L618.0 275.4 L619.0 275.6 L620.0 275.4 L621.0 278.5 L622.0 277.8 L623.0 276.9 L624.0 278.6 L625.0 281.3 L626.0 280.7 L627.0 280.5 L628.0 282.0 L629.0 282.3 L630.1 281.2 L631.2 280.5 L632.4 281.1 L633.5 278.6 L634.6 277.7 L635.7 278.4 L636.8 278.2 L637.8 279.1 L638.9 277.9 L640.0 277.9 L641.0 277.8 L642.0 278.3 L643.0 278.3 L644.0 277.3 L645.0 276.7 L646.0 277.6 L647.1 280.9 L648.3 281.3 L649.5 281.9 L650.6 282.4 L651.7 283.4 L652.8 282.4 L653.9 282.0 L654.9 281.6 L656.0 282.2 L657.1 282.2 L658.2 282.1 L659.2 283.0 L660.3 281.2 L661.4 280.9 L662.4 281.8 L663.5 281.2 L664.5 281.0 L665.6 280.5 L666.7 277.8 L667.8 277.7 L668.8 276.3 L669.9 275.4 L671.0 273.8 L672.1 275.0 L673.1 276.0 L674.2 276.1 L675.3 274.1 L676.3 274.5 L677.4 274.0 L678.5 272.7 L679.5 272.3 L680.6 271.7 L681.7 268.9 L682.8 269.4 L683.8 269.8 L684.9 268.9 L686.0 269.9 L687.1 270.2 L688.1 267.9 L689.2 267.7 L690.3 266.4 L691.3 267.1 L692.4 266.6 L693.5 266.0 L694.5 266.8 L695.6 268.8 L696.6 268.0 L697.7 270.5 L698.8 268.1 L699.9 268.6 L701.0 266.5 L702.0 267.1 L703.1 265.8 L704.2 265.8 L705.3 264.4 L706.3 262.9 L707.4 264.0 L708.5 261.3 L709.5 260.0 L710.6 259.1 L711.6 260.0 L712.6 260.9 L713.6 259.4 L714.6 259.5 L715.6 260.4 L716.6 257.6 L717.6 258.6 L718.6 256.7 L719.7 255.0 L720.7 255.6 L721.8 255.4 L722.9 255.1 L724.0 255.6 L725.0 253.4 L726.1 254.2 L727.2 252.8 L728.2 254.6 L729.3 253.8 L730.4 252.6 L731.4 253.1 L732.5 253.0 L733.5 251.7 L734.6 253.4 L735.7 253.2 L736.7 254.6 L737.8 255.0 L738.9 255.1 L739.9 255.4 L741.0 253.1 L742.1 252.6 L743.2 252.1 L744.2 251.9 L745.3 252.0 L746.4 252.0 L747.5 251.4 L748.5 250.7 L749.6 249.9 L750.7 247.8 L751.8 247.0 L752.9 245.8 L753.9 246.7 L755.0 247.0 L756.0 245.9 L757.0 245.8 L758.0 247.4 L759.0 245.7 L760.0 246.0 L761.0 246.0 L762.0 245.8 L763.0 245.6 L764.0 248.1 L765.0 248.4 L766.0 248.5 L767.3 248.9 L768.6 250.0 L769.9 253.2 L771.0 253.3 L772.1 255.1 L773.1 256.3 L774.2 254.8 L775.3 255.2 L776.4 255.4 L777.4 254.3 L778.5 252.4 L779.5 251.4 L780.6 247.4 L781.7 246.0 L782.8 245.4 L783.9 243.8 L784.9 242.5 L786.0 243.1 L787.1 242.7 L788.2 241.7 L789.2 244.0 L790.3 244.8 L791.4 244.9 L792.5 245.9 L793.5 246.0 L794.6 245.1 L795.6 245.8 L796.7 246.8 L797.8 247.5 L798.8 247.7 L799.9 247.6 L801.0 248.5 L802.0 249.1 L803.1 248.6 L804.2 247.7 L805.3 248.4 L806.3 250.0 L807.4 248.0 L808.5 248.9 L809.6 248.8 L810.6 249.1 L811.7 251.5 L812.8 251.8 L813.9 251.7 L814.9 253.6 L816.0 254.8 L817.1 255.6 L818.1 254.5 L819.2 254.6 L820.5 254.8 L821.7 252.8 L823.0 251.4 L824.1 250.9 L825.3 252.3 L826.5 251.9 L827.6 251.7 L828.6 251.3 L829.6 248.4 L830.6 248.8 L831.6 248.6 L832.7 249.2 L833.7 246.2 L834.7 244.7 L835.7 243.5 L836.7 243.7 L837.7 243.2 L838.8 243.2 L839.8 245.1 L840.9 246.8 L842.0 247.8 L843.1 245.3 L844.1 244.3 L845.2 244.9 L846.2 245.6 L847.3 245.7 L848.4 245.8 L849.4 243.0 L850.5 242.7 L851.5 240.4 L852.5 242.4 L853.6 244.3 L854.6 243.8 L855.7 244.1 L856.8 243.4 L857.8 246.2 L858.9 245.1 L860.0 244.1 L861.1 243.8 L862.1 242.6 L863.2 244.8 L864.3 245.7 L865.4 244.6 L866.5 243.3 L867.6 242.7 L868.7 243.9 L869.7 241.1 L870.8 240.1 L871.9 241.0 L873.0 240.0 L874.0 239.6 L875.1 237.6 L876.1 237.3 L877.2 238.6 L878.2 238.2 L879.3 237.2 L880.3 238.6 L881.4 237.1 L882.5 238.5 L883.5 240.4 L884.5 239.6 L885.6 238.1 L886.9 243.3 L888.1 249.1 L889.4 251.3 L890.6 265.8 L891.9 282.1 L892.9 279.8 L894.0 279.2 L895.0 276.2 L896.1 273.9 L897.2 272.1 L898.4 271.0 L899.5 270.9 L900.6 270.2 L901.7 268.2 L902.8 266.3 L903.9 265.5 L905.0 263.1 L906.0 262.5 L907.0 261.3 L908.0 259.1 L909.0 259.8 L910.0 257.7 L911.3 257.8 L912.5 259.1 L913.8 260.7" fill="none" stroke="#A5A5A5" stroke-width="6.30" stroke-linejoin="round" stroke-linecap="butt"/>
<path d="M68.6 323.7 L69.6 322.5 L70.7 322.7 L71.8 322.8 L72.8 320.8 L73.8 319.1 L74.9 320.0 L76.0 318.6 L77.0 318.7 L78.0 320.4 L79.0 321.1 L80.0 318.7 L81.0 317.1 L82.0 316.5 L83.0 318.3 L84.0 316.2 L85.0 315.7 L86.0 314.8 L87.0 314.3 L88.0 316.6 L89.0 317.1 L90.0 318.6 L91.0 321.1 L92.0 322.8 L93.0 323.2 L94.0 325.1 L95.0 325.9 L96.0 326.2 L97.0 324.0 L98.0 323.0 L99.0 323.0 L100.0 324.1 L101.0 323.3 L102.0 322.1 L103.0 320.5 L104.0 319.5 L105.0 318.5 L106.0 320.5 L107.0 321.1 L108.0 321.2 L109.0 319.8 L110.0 319.4 L111.0 317.6 L112.0 317.0 L113.0 315.1 L114.0 314.9 L115.0 313.8 L116.0 312.5 L117.0 314.4 L118.0 312.3 L119.0 313.4 L120.0 313.3 L121.1 311.0 L122.1 311.0 L123.2 312.7 L124.2 313.4 L125.3 312.0 L126.4 311.9 L127.4 311.4 L128.5 309.4 L129.6 309.3 L130.7 309.3 L131.7 308.4 L132.8 309.4 L133.9 308.5 L135.0 309.2 L136.0 307.1 L137.1 307.4 L138.1 306.1 L139.2 307.5 L140.2 309.1 L141.3 308.8 L142.4 307.7 L143.4 306.8 L144.5 304.4 L145.6 303.2 L146.7 303.4 L147.7 303.6 L148.8 302.6 L149.9 302.3 L150.9 301.4 L152.0 301.5 L153.1 302.3 L154.2 301.6 L155.2 302.5 L156.3 303.7 L157.4 303.3 L158.5 304.7 L159.6 303.6 L160.6 305.4 L161.7 304.1 L162.8 304.2 L163.8 306.2 L164.9 304.8 L166.0 305.4 L167.0 306.5 L168.1 307.2 L169.2 306.5 L170.2 304.7 L171.3 303.6 L172.4 304.6 L173.5 303.3 L174.5 302.7 L175.6 305.6 L176.7 306.5 L177.8 305.5 L178.8 306.1 L179.9 306.2 L181.0 308.5 L182.1 307.9 L183.1 309.3 L184.2 310.4 L185.3 310.6 L186.3 311.0 L187.4 312.8 L188.5 314.0 L189.6 315.1 L190.6 315.1 L191.7 316.9 L192.8 316.8 L193.8 316.0 L194.9 318.1 L196.1 319.0 L197.3 318.5 L198.3 317.6 L199.3 318.1 L200.4 318.4 L201.4 315.0 L202.4 314.7 L203.4 312.7 L204.5 312.5 L205.5 311.9 L206.5 312.2 L207.6 314.1 L208.6 316.2 L209.7 315.5 L210.7 314.6 L211.8 318.0 L212.8 319.5 L213.9 319.8 L214.9 318.3 L215.9 317.5 L216.9 320.3 L217.9 320.6 L218.9 322.1 L219.9 322.9 L220.9 323.3 L221.9 323.9 L222.9 322.4 L223.9 321.7 L224.9 323.5 L225.9 326.4 L227.0 328.8 L228.0 330.7 L229.0 332.5 L230.0 334.1 L231.0 335.0 L232.0 338.2 L233.0 339.6 L234.0 340.4 L235.0 342.0 L236.0 344.3 L237.1 344.1 L238.1 340.7 L239.2 339.2 L240.2 339.2 L241.2 339.1 L242.3 337.3 L243.4 339.6 L244.4 339.3 L245.5 340.5 L246.6 338.9 L247.6 339.0 L248.7 338.4 L249.8 341.2 L251.0 342.1 L252.2 344.5 L253.3 344.9 L254.4 342.3 L255.6 340.4 L256.8 338.8 L257.9 336.6 L258.9 335.5 L260.0 336.6 L261.0 335.9 L262.1 335.8 L263.1 336.4 L264.2 335.1 L265.2 334.7 L266.3 334.1 L267.3 333.6 L268.4 334.5 L269.4 332.8 L270.5 332.8 L271.5 331.7 L272.6 333.0 L273.7 331.6 L274.8 332.8 L275.8 331.3 L276.9 330.7 L278.0 329.5 L279.1 330.0 L280.1 329.6 L281.2 329.0 L282.2 326.4 L283.3 325.1 L284.3 326.4 L285.4 325.7 L286.4 327.4 L287.4 327.0 L288.5 327.4 L289.5 327.2 L290.5 327.8 L291.5 327.0 L292.6 327.4 L293.6 325.7 L294.6 324.1 L295.6 322.7 L296.6 322.4 L297.7 324.5 L298.7 324.7 L299.7 322.6 L300.7 321.3 L301.8 322.2 L302.8 322.9 L303.8 322.6 L304.9 321.6 L306.0 322.1 L307.1 324.7 L308.2 325.8 L309.3 326.9 L310.3 324.8 L311.4 324.8 L312.4 322.9 L313.5 322.0 L314.5 323.7 L315.6 321.6 L316.6 320.6 L317.7 320.7 L318.8 323.3 L319.8 324.4 L320.9 325.0 L322.0 326.5 L323.1 325.9 L324.1 327.3 L325.2 327.6 L326.2 326.3 L327.3 325.4 L328.3 325.7 L329.3 325.4 L330.3 326.5 L331.3 326.5 L332.3 326.7 L333.3 326.3 L334.3 324.7 L335.3 325.6 L336.3 326.8 L337.3 326.1 L338.3 326.0 L339.3 323.9 L340.3 322.1 L341.4 322.1 L342.4 322.5 L343.4 323.0 L344.4 322.1 L345.5 321.7 L346.5 319.7 L347.5 318.3 L348.5 317.7 L349.5 318.1 L350.6 317.9 L351.6 317.4 L352.6 317.7 L353.6 317.8 L354.7 319.5 L355.7 320.7 L356.7 321.5 L357.7 320.9 L358.7 317.9 L359.8 317.0 L360.8 319.1 L361.8 319.1 L362.8 319.6 L363.9 317.4 L364.9 316.3 L365.9 315.0 L367.0 316.5 L368.2 316.9 L369.4 317.7 L370.5 317.1 L371.5 315.9 L372.6 316.5 L373.6 318.6 L374.6 318.7 L375.6 318.4 L376.6 316.3 L377.7 316.3 L378.7 316.0 L379.7 317.1 L380.7 316.9 L381.7 318.4 L382.7 317.3 L383.7 318.5 L384.7 316.6 L385.7 316.1 L386.7 318.2 L387.7 319.7 L388.7 318.6 L389.7 317.7 L390.9 322.3 L392.2 324.6 L393.4 325.1 L394.4 327.7 L395.5 327.8 L396.5 327.1 L397.6 327.6 L398.6 327.6 L399.7 328.5 L400.7 328.6 L401.9 327.4 L403.0 327.5 L404.1 325.7 L405.3 326.2 L406.4 327.1 L407.6 328.5 L408.8 326.7 L409.9 328.4 L410.9 327.9 L412.0 325.5 L413.0 326.4 L414.1 325.2 L415.1 323.1 L416.2 321.7 L417.2 323.5 L418.2 323.7 L419.2 321.6 L420.3 322.6 L421.3 320.0 L422.3 320.7 L423.3 320.6 L424.4 321.3 L425.4 321.6 L426.4 320.9 L427.5 321.5 L428.5 320.5 L429.6 321.8 L430.6 320.8 L431.7 321.4 L432.7 322.0 L433.8 321.2 L434.8 322.5 L435.9 323.0 L436.9 321.4 L438.0 322.3 L439.0 322.6 L440.1 323.4 L441.1 321.9 L442.1 322.8 L443.2 321.9 L444.2 322.4 L445.3 320.7 L446.3 318.7 L447.4 319.0 L448.4 319.5 L449.5 320.0 L450.5 319.2 L451.6 319.7 L452.6 317.1 L453.7 315.3 L454.7 315.0 L455.8 315.5 L457.2 315.3 L458.6 312.0 L459.7 313.0 L460.7 312.7 L461.8 313.2 L462.9 312.0 L463.9 311.6 L465.0 313.2 L466.1 313.0 L467.1 315.3 L468.2 314.9 L469.3 313.6 L470.3 312.0 L471.4 312.2 L472.5 312.0 L473.5 310.8 L474.6 312.5 L475.7 311.5 L476.7 311.7 L477.8 311.3 L478.9 311.5 L479.9 308.9 L481.0 310.4 L482.1 309.8 L483.1 307.7 L484.2 308.0 L485.3 306.1 L486.4 306.2 L487.4 304.9 L488.5 303.9 L489.6 304.7 L490.6 306.4 L491.7 306.9 L492.8 307.7 L493.9 307.4 L494.9 306.5 L496.0 305.9 L497.1 308.0 L498.2 306.7 L499.2 307.8 L500.3 309.0 L501.4 308.3 L502.5 309.8 L503.5 309.7 L504.6 308.2 L505.7 308.8 L506.8 307.7 L507.9 307.8 L508.9 306.9 L510.0 307.3 L511.1 306.1 L512.1 303.8 L513.2 304.8 L514.2 303.2 L515.3 303.4 L516.4 304.6 L517.4 304.3 L518.5 301.6 L519.5 302.7 L520.6 303.5 L521.7 302.2 L522.8 300.7 L523.8 300.4 L524.9 300.5 L526.0 298.6 L527.1 300.4 L528.2 300.6 L529.2 299.7 L530.3 300.6 L531.4 298.7 L532.5 300.0 L533.5 300.6 L534.6 299.4 L535.6 297.3 L536.7 297.2 L537.8 295.8 L538.8 296.6 L539.9 295.4 L541.0 296.0 L542.0 295.8 L543.1 295.4 L544.2 295.9 L545.2 296.0 L546.3 297.1 L547.4 296.1 L548.5 295.9 L549.5 296.3 L550.6 294.3 L551.7 294.2 L552.7 292.6 L553.8 292.6 L554.9 292.4 L555.9 293.5 L557.0 294.1 L558.1 292.7 L559.2 294.0 L560.2 293.2 L561.3 292.5 L562.4 293.5 L563.5 293.1 L564.5 295.4 L565.6 296.7 L566.7 294.4 L567.8 295.7 L568.8 295.8 L569.9 292.9 L570.9 292.9 L572.0 292.2 L573.1 292.0 L574.2 294.5 L575.2 293.9 L576.3 295.4 L577.4 297.3 L578.6 298.1 L579.8 296.7 L581.0 295.3 L582.1 295.1 L583.2 295.1 L584.2 294.5 L585.3 292.9 L586.4 294.5 L587.5 292.2 L588.5 290.4 L589.6 289.1 L590.7 290.6 L591.7 287.7 L592.8 287.6 L593.9 286.9 L595.0 284.7 L596.0 285.1 L597.1 282.6 L598.2 281.1 L599.2 279.7 L600.3 281.0 L601.4 279.2 L602.5 280.1 L603.5 280.4 L604.6 278.4 L605.7 280.1 L606.7 277.9 L607.8 277.0 L608.8 278.4 L609.9 277.2 L610.9 278.3 L611.9 278.6 L612.9 278.8 L614.0 277.6 L615.0 276.4 L616.1 276.4 L617.2 276.9 L618.3 275.0 L619.5 274.1 L620.6 274.2 L621.7 273.4 L622.8 275.4 L623.9 278.6 L625.0 279.4 L626.0 279.7 L627.1 280.8 L628.2 283.6 L629.3 283.8 L630.3 283.4 L631.4 283.4 L632.5 284.5 L633.6 284.0 L634.6 282.2 L635.7 283.7 L636.8 281.2 L637.8 280.0 L638.9 279.4 L640.0 279.6 L641.1 280.3 L642.1 281.4 L643.2 279.9 L644.3 282.3 L645.3 284.4 L646.4 285.5 L647.4 286.3 L648.5 286.3 L649.6 286.6 L650.7 286.3 L651.7 287.6 L652.8 288.2 L653.9 289.7 L654.9 288.2 L655.9 290.4 L657.0 289.4 L658.0 287.5 L659.0 286.3 L660.0 286.6 L661.1 285.6 L662.2 287.1 L663.3 286.6 L664.4 287.5 L665.5 286.8 L666.6 286.6 L667.7 288.2 L668.8 287.5 L669.9 288.7 L671.0 289.6 L672.0 290.8 L673.1 291.8 L674.2 292.2 L675.2 292.0 L676.3 293.6 L677.4 291.1 L678.4 290.1 L679.5 291.3 L680.6 291.8 L681.6 288.9 L682.7 289.7 L683.8 288.7 L684.9 287.0 L685.9 288.3 L687.0 287.5 L688.1 286.5 L689.1 288.5 L690.2 286.6 L691.3 288.0 L692.4 289.0 L693.5 289.7 L694.5 289.2 L695.6 288.4 L696.7 287.2 L697.7 288.3 L698.8 287.8 L699.8 285.6 L700.9 286.6 L701.9 287.1 L703.0 287.4 L704.0 286.1 L705.0 285.8 L706.0 285.0 L707.0 285.0 L708.0 282.8 L709.0 281.1 L710.0 282.2 L711.1 280.3 L712.1 278.1 L713.2 279.0 L714.3 279.5 L715.4 279.8 L716.5 280.1 L717.5 276.6 L718.6 277.6 L719.7 275.7 L720.7 273.9 L721.8 273.3 L722.9 272.1 L723.9 271.0 L725.0 270.7 L726.0 271.8 L727.1 270.5 L728.2 272.4 L729.2 270.8 L730.3 270.7 L731.4 270.4 L732.5 270.1 L733.6 269.5 L734.6 271.0 L735.7 270.3 L736.8 270.3 L737.8 270.1 L738.9 273.1 L740.0 272.4 L741.1 273.1 L742.1 274.9 L743.2 273.8 L744.3 273.0 L745.3 274.0 L746.4 273.4 L747.5 271.0 L748.6 270.7 L749.6 271.3 L750.7 270.3 L751.8 268.9 L752.8 267.8 L753.9 269.5 L755.0 268.5 L756.0 267.1 L757.1 266.5 L758.1 267.3 L759.2 268.4 L760.3 268.3 L761.3 267.8 L762.4 266.5 L763.5 265.3 L764.6 266.0 L765.6 265.2 L766.7 264.3 L767.8 266.8 L768.9 269.3 L769.9 271.0 L771.0 269.8 L772.1 271.3 L773.1 271.5 L774.2 270.2 L775.3 272.3 L776.3 272.7 L777.4 273.0 L778.5 270.6 L779.5 270.7 L780.6 270.1 L781.7 270.7 L782.8 270.9 L783.8 267.9 L784.9 268.7 L786.0 267.9 L787.0 266.1 L788.1 267.9 L789.2 269.1 L790.3 269.8 L791.4 267.9 L792.4 269.0 L793.5 270.4 L794.6 271.2 L795.6 269.5 L796.7 270.3 L797.8 268.1 L798.9 269.7 L799.9 269.4 L801.0 269.6 L802.0 270.3 L803.0 268.9 L804.0 268.2 L805.0 267.2 L806.0 269.2 L807.0 267.9 L808.0 267.2 L809.0 269.5 L810.0 270.5 L811.0 273.0 L812.0 271.5 L813.0 272.3 L814.0 271.8 L815.0 273.9 L816.0 275.7 L817.0 277.0 L818.0 274.8 L819.0 276.0 L820.0 276.2 L821.2 274.8 L822.3 275.4 L823.5 276.9 L824.6 276.3 L825.6 274.5 L826.7 271.7 L827.7 270.7 L828.8 269.3 L829.9 268.5 L831.0 269.8 L832.0 269.0 L833.1 268.1 L834.2 265.1 L835.3 264.6 L836.3 265.7 L837.4 264.0 L838.4 262.3 L839.5 262.2 L840.6 262.6 L841.7 264.9 L842.7 265.6 L843.8 268.1 L844.9 269.8 L846.0 268.4 L847.2 269.4 L848.3 269.7 L849.4 269.9 L850.5 269.9 L851.7 269.5 L852.8 269.3 L853.8 268.3 L854.9 270.0 L856.0 268.6 L857.0 269.5 L858.0 267.9 L859.1 270.9 L860.2 270.2 L861.3 267.1 L862.4 268.3 L863.4 267.3 L864.5 265.6 L865.6 264.5 L866.7 265.2 L867.8 265.2 L868.8 262.1 L869.9 260.4 L871.0 258.9 L872.1 257.3 L873.1 256.4 L874.2 257.2 L875.2 257.7 L876.3 258.1 L877.4 258.2 L878.4 257.5 L879.5 257.7 L880.5 254.2 L881.5 256.6 L882.5 256.3 L883.6 257.4 L884.6 257.7 L885.6 258.7 L886.9 262.3 L888.1 264.0 L889.4 267.9 L890.6 275.8 L891.9 287.4 L892.9 286.1 L894.0 282.9 L895.0 280.3 L896.1 278.8 L897.2 276.6 L898.4 276.4 L899.5 276.3 L900.5 274.2 L901.6 272.7 L902.6 272.7 L903.7 271.5 L904.8 268.2 L905.8 266.0 L906.8 267.3 L907.8 266.7 L908.8 264.2 L909.8 263.7 L910.8 262.7 L911.8 263.9 L912.8 265.6 L913.8 266.5" fill="none" stroke="#FFC000" stroke-width="6.30" stroke-linejoin="round" stroke-linecap="butt"/>
<path d="M68.6 325.2 L69.7 325.6 L70.7 325.2 L71.8 323.1 L72.8 322.2 L73.9 323.0 L75.0 323.7 L76.0 321.2 L77.1 320.3 L78.2 322.0 L79.2 320.0 L80.3 320.7 L81.4 319.7 L82.4 320.1 L83.5 320.9 L84.6 320.1 L85.7 318.8 L86.7 317.7 L87.8 317.9 L88.9 319.7 L89.9 320.5 L91.0 321.8 L92.1 323.3 L93.2 323.8 L94.2 324.4 L95.3 326.8 L96.4 325.0 L97.4 325.5 L98.5 326.3 L99.6 326.5 L100.7 324.3 L101.7 323.4 L102.8 324.4 L103.9 323.0 L105.0 324.5 L106.0 322.3 L107.1 323.3 L108.2 320.8 L109.2 321.6 L110.3 322.4 L111.4 321.8 L112.5 321.7 L113.5 322.6 L114.6 323.2 L115.7 320.6 L116.8 320.2 L117.8 318.2 L118.9 318.2 L120.0 317.3 L121.0 316.7 L122.1 318.0 L123.2 316.3 L124.2 315.4 L125.3 314.2 L126.3 316.2 L127.4 315.0 L128.5 313.4 L129.5 314.3 L130.6 315.0 L131.7 315.4 L132.8 315.4 L133.8 315.4 L134.9 316.1 L136.0 315.1 L137.0 316.5 L138.1 316.8 L139.2 317.6 L140.3 317.8 L141.3 317.5 L142.4 316.1 L143.5 315.1 L144.5 315.2 L145.6 314.5 L146.7 312.1 L147.8 313.9 L148.8 312.1 L149.9 312.1 L151.0 311.8 L152.0 310.2 L153.1 311.0 L154.2 311.4 L155.3 312.9 L156.3 313.1 L157.4 312.3 L158.5 313.0 L159.5 314.9 L160.6 314.9 L161.7 317.7 L162.7 317.1 L163.8 320.2 L164.9 318.4 L165.9 317.0 L167.0 316.5 L168.1 315.4 L169.2 314.2 L170.2 313.7 L171.3 313.3 L172.4 314.3 L173.4 317.3 L174.5 316.7 L175.6 317.3 L176.6 317.4 L177.7 319.6 L178.8 319.6 L179.9 320.8 L180.9 320.6 L182.0 320.5 L183.1 321.7 L184.2 321.0 L185.3 325.2 L186.3 327.2 L187.4 328.5 L188.5 330.7 L189.6 331.7 L190.6 330.4 L191.6 329.1 L192.7 327.5 L193.8 329.0 L195.0 331.9 L196.2 333.6 L197.3 334.0 L198.4 334.3 L199.5 331.2 L200.6 329.7 L201.7 329.8 L202.8 329.8 L203.9 328.3 L205.0 325.6 L206.1 325.8 L207.2 325.2 L208.3 323.2 L209.4 324.2 L210.4 327.0 L211.5 325.8 L212.5 325.9 L213.6 326.2 L214.6 329.0 L215.7 329.0 L216.7 330.1 L217.8 330.8 L218.8 328.8 L219.8 329.3 L220.8 328.5 L221.8 330.5 L222.9 330.6 L223.9 330.2 L225.1 332.8 L226.4 334.8 L227.6 333.7 L229.4 345.4 L230.6 347.4 L231.9 349.4 L233.1 351.7 L234.2 350.8 L235.4 351.7 L236.5 350.6 L237.7 350.6 L238.8 349.6 L239.9 347.4 L241.0 347.3 L242.1 345.6 L243.2 346.0 L244.3 345.6 L245.4 348.5 L246.5 348.2 L247.6 350.5 L248.7 349.7 L249.8 349.3 L250.9 349.5 L252.0 352.0 L253.1 353.6 L254.2 354.4 L255.3 352.3 L256.5 348.9 L257.6 346.6 L258.8 343.9 L259.9 345.9 L260.9 343.9 L262.0 344.6 L263.1 342.2 L264.1 341.6 L265.2 342.1 L266.3 341.2 L267.3 340.3 L268.4 342.8 L269.4 342.0 L270.5 340.5 L271.5 342.2 L272.6 344.2 L273.6 343.0 L274.7 340.3 L275.7 339.8 L276.8 340.0 L277.8 338.4 L278.9 337.9 L279.9 338.5 L280.9 339.1 L281.9 340.1 L283.0 341.2 L284.0 340.4 L285.0 341.6 L286.0 339.3 L287.1 339.6 L288.1 340.4 L289.1 341.8 L290.2 341.5 L291.2 341.4 L292.3 343.3 L293.4 343.1 L294.4 341.8 L295.5 342.8 L296.6 341.3 L297.6 341.3 L298.7 341.5 L299.8 338.3 L300.8 337.0 L301.9 338.0 L303.0 339.2 L304.0 340.1 L305.1 339.4 L306.1 341.2 L307.2 342.1 L308.2 342.7 L309.3 342.3 L310.3 341.4 L311.4 338.8 L312.4 336.7 L313.4 335.2 L314.4 334.2 L315.4 335.0 L316.5 336.6 L317.5 335.9 L318.6 337.5 L319.8 338.6 L320.9 340.2 L322.0 339.1 L323.1 339.5 L324.1 341.5 L325.2 340.7 L326.2 342.0 L327.3 341.9 L328.4 340.7 L329.4 340.3 L330.5 340.7 L331.5 339.8 L332.6 342.4 L333.6 342.0 L334.7 341.5 L335.8 343.3 L336.9 341.5 L338.0 343.3 L339.1 343.3 L340.2 342.1 L341.2 342.1 L342.2 344.1 L343.3 341.6 L344.3 341.0 L345.3 340.1 L346.3 341.0 L347.4 339.9 L348.4 341.6 L349.4 340.6 L350.4 342.0 L351.4 339.7 L352.4 338.6 L353.4 337.2 L354.5 336.3 L355.5 336.2 L356.5 337.5 L357.5 337.9 L358.5 338.6 L359.5 337.3 L360.5 337.9 L361.6 339.5 L362.6 338.0 L363.6 336.8 L364.6 335.9 L365.7 338.2 L366.7 338.2 L367.7 337.7 L369.1 341.1 L370.5 343.1 L371.6 341.8 L372.8 342.4 L373.9 340.7 L375.0 340.3 L376.0 342.0 L377.0 340.3 L378.1 340.4 L379.1 341.5 L380.1 342.1 L381.1 342.7 L382.2 343.3 L383.2 342.5 L384.2 340.7 L385.3 340.6 L386.4 342.0 L387.5 340.0 L388.6 339.2 L389.7 338.3 L390.8 341.1 L391.9 340.2 L393.0 340.2 L394.1 342.2 L395.2 344.1 L396.3 343.8 L397.3 345.0 L398.4 345.6 L399.4 344.9 L400.5 343.5 L401.5 345.1 L402.6 345.8 L403.6 347.4 L404.7 347.4 L405.7 345.2 L406.8 344.5 L407.8 344.6 L408.9 346.2 L409.9 345.6 L410.9 344.8 L411.9 344.0 L413.0 343.9 L414.0 344.5 L415.0 345.5 L416.0 346.5 L417.1 344.2 L418.1 344.5 L419.1 346.1 L420.1 344.3 L421.2 342.1 L422.2 342.5 L423.3 343.0 L424.3 340.2 L425.4 338.5 L426.4 338.1 L427.5 338.0 L428.7 336.8 L429.9 335.8 L431.0 336.3 L432.1 339.7 L433.1 340.5 L434.2 340.4 L435.3 343.2 L436.3 342.7 L437.4 342.3 L438.5 341.7 L439.5 341.0 L440.6 343.9 L441.6 344.2 L442.7 346.0 L443.7 345.5 L444.8 343.6 L445.8 343.4 L446.9 343.1 L447.9 342.3 L449.0 341.5 L450.0 343.2 L451.1 344.7 L452.1 345.7 L453.2 343.6 L454.3 343.7 L455.4 342.4 L456.4 343.7 L457.5 344.6 L458.6 341.7 L459.7 340.9 L460.7 342.8 L461.8 344.3 L462.9 344.6 L463.9 341.9 L465.0 342.3 L466.0 343.1 L467.1 342.9 L468.2 341.7 L469.2 341.5 L470.3 338.4 L471.4 338.1 L472.5 339.0 L473.5 337.6 L474.6 335.7 L475.7 333.6 L476.7 334.8 L477.8 334.3 L478.9 334.8 L480.0 334.7 L481.0 333.3 L482.1 332.8 L483.2 332.1 L484.2 331.0 L485.3 328.9 L486.4 328.4 L487.5 328.1 L488.5 325.7 L489.6 326.0 L490.7 324.3 L491.7 321.8 L492.8 319.9 L493.9 319.9 L494.9 316.1 L496.0 313.2 L497.1 316.6 L498.1 318.1 L499.2 322.7 L500.3 326.5 L501.4 324.4 L502.5 322.8 L503.5 322.7 L504.6 323.1 L505.7 322.0 L506.8 323.0 L507.8 321.6 L508.9 321.4 L510.0 322.1 L511.0 322.8 L512.1 322.0 L513.2 320.6 L514.2 321.3 L515.3 320.7 L516.4 319.6 L517.4 317.6 L518.5 316.7 L519.6 315.3 L520.6 315.1 L521.7 314.3 L522.8 314.3 L523.8 315.6 L524.9 316.0 L526.0 316.8 L527.0 315.9 L528.1 314.4 L529.2 313.3 L530.3 314.2 L531.3 311.4 L532.4 310.2 L533.5 312.1 L534.6 312.7 L535.6 314.5 L536.7 315.2 L537.8 317.8 L538.9 319.3 L539.9 318.3 L541.0 319.0 L542.1 316.6 L543.1 315.5 L544.2 315.0 L545.3 317.5 L546.3 317.2 L547.4 318.2 L548.5 320.0 L549.5 320.1 L550.6 319.7 L551.7 319.3 L552.8 319.2 L553.8 318.7 L554.9 318.0 L556.0 315.9 L557.1 317.5 L558.1 317.3 L559.2 317.5 L560.3 317.4 L561.3 315.2 L562.4 314.7 L563.5 315.0 L564.6 313.5 L565.6 315.0 L566.7 314.5 L567.8 314.4 L568.8 315.4 L569.9 313.6 L571.0 312.6 L572.1 312.8 L573.1 311.0 L574.2 310.5 L575.3 311.0 L576.4 314.3 L577.4 315.3 L578.5 316.8 L579.5 315.0 L580.6 312.1 L581.9 308.0 L583.2 306.3 L584.3 306.1 L585.3 305.9 L586.4 305.2 L587.5 306.5 L588.6 304.8 L589.6 306.2 L590.7 306.3 L591.8 305.6 L592.8 305.8 L593.9 303.7 L595.0 302.3 L596.0 300.7 L597.1 300.3 L598.2 300.4 L599.2 299.7 L600.3 297.0 L601.4 297.2 L602.4 294.1 L603.5 294.1 L604.6 292.6 L605.6 292.1 L606.7 292.5 L607.8 291.1 L608.9 292.1 L610.0 292.4 L611.0 292.7 L612.1 291.6 L613.2 292.6 L614.2 292.7 L615.3 292.1 L616.4 292.2 L617.5 290.8 L618.6 291.2 L619.6 290.3 L620.7 289.3 L621.8 291.3 L622.8 294.0 L623.9 294.2 L624.9 293.5 L626.0 295.3 L627.1 295.7 L628.2 298.2 L629.2 300.6 L630.3 300.7 L631.4 301.7 L632.5 301.5 L633.5 301.9 L634.6 302.0 L635.7 302.7 L636.7 301.6 L637.8 302.0 L638.8 300.3 L639.9 299.7 L640.9 302.1 L641.9 302.9 L643.0 302.2 L644.0 300.7 L645.1 301.4 L646.2 302.8 L647.4 302.6 L648.5 305.1 L649.6 308.0 L650.7 308.3 L651.8 309.1 L652.8 309.9 L653.9 311.4 L655.0 311.2 L656.0 309.4 L657.1 307.1 L658.2 305.4 L659.2 307.1 L660.3 306.6 L661.4 304.8 L662.4 304.8 L663.5 306.0 L664.6 305.2 L665.7 305.7 L666.7 307.1 L667.8 305.5 L668.9 306.0 L669.9 305.6 L671.0 307.7 L672.1 308.5 L673.2 309.6 L674.2 309.8 L675.3 311.4 L676.4 311.0 L677.4 311.5 L678.5 310.9 L679.6 307.8 L680.7 305.9 L681.7 305.5 L682.8 304.2 L683.9 303.7 L684.9 303.4 L686.0 305.5 L687.0 304.0 L688.1 305.5 L689.2 305.2 L690.2 305.9 L691.3 305.2 L692.4 303.9 L693.4 303.7 L694.5 305.4 L695.6 305.7 L696.6 305.4 L697.7 304.2 L698.8 303.2 L699.9 299.8 L700.9 298.2 L702.0 296.2 L703.1 294.6 L704.2 295.7 L705.2 293.9 L706.3 293.1 L707.4 293.6 L708.5 292.8 L709.5 294.3 L710.6 293.4 L711.8 291.5 L712.9 291.4 L714.1 291.4 L715.2 291.8 L716.4 290.6 L717.5 293.8 L718.5 294.0 L719.6 295.3 L720.7 295.4 L721.7 295.7 L722.8 295.6 L723.9 296.3 L725.0 293.5 L726.0 292.8 L727.1 291.1 L728.2 289.7 L729.3 287.8 L730.4 290.2 L731.4 289.2 L732.5 290.0 L733.5 290.5 L734.6 291.3 L735.7 290.1 L736.7 289.4 L737.8 290.2 L738.9 290.2 L739.9 289.3 L741.0 289.4 L742.1 291.7 L743.2 291.0 L744.2 291.9 L745.3 293.2 L746.4 291.9 L747.4 289.8 L748.5 288.4 L749.6 287.6 L750.6 284.5 L751.7 281.5 L752.8 280.3 L753.8 280.5 L754.9 278.3 L756.0 279.2 L757.1 277.1 L758.1 275.3 L759.2 276.0 L760.3 274.5 L761.3 274.7 L762.4 272.5 L763.5 271.1 L764.6 270.6 L765.6 270.8 L766.7 269.9 L767.8 273.8 L768.9 277.0 L769.9 276.9 L771.0 280.5 L772.1 282.3 L773.2 281.1 L774.2 281.2 L775.3 282.0 L776.4 284.3 L777.5 281.5 L778.5 279.6 L779.6 280.2 L780.7 277.9 L781.7 278.5 L782.8 276.6 L783.9 278.3 L784.9 276.8 L786.0 276.2 L787.1 277.4 L788.2 278.2 L789.2 278.4 L790.3 277.0 L791.4 277.2 L792.5 277.7 L793.5 277.9 L794.6 278.7 L795.6 278.3 L796.7 277.6 L797.8 277.2 L798.8 276.7 L799.9 277.0 L801.0 275.6 L802.0 275.6 L803.1 275.1 L804.2 273.1 L805.2 273.1 L806.3 272.7 L807.4 273.4 L808.5 272.9 L809.5 275.9 L810.6 276.0 L811.7 277.1 L812.8 276.8 L813.9 277.1 L815.0 278.1 L816.0 278.1 L817.1 278.4 L818.4 282.3 L819.6 287.3 L820.9 290.4 L821.9 286.8 L823.0 283.9 L824.0 284.7 L825.0 283.1 L826.1 282.8 L827.1 282.8 L828.2 282.7 L829.3 281.0 L830.3 279.5 L831.4 279.6 L832.5 278.5 L833.5 278.2 L834.6 277.2 L835.7 278.4 L836.8 278.6 L837.8 277.5 L838.9 277.3 L840.0 277.6 L841.0 277.4 L842.0 277.6 L843.1 278.2 L844.2 279.8 L845.2 279.4 L846.2 278.2 L847.3 280.7 L848.4 278.9 L849.4 277.8 L850.5 278.8 L851.5 278.4 L852.5 280.0 L853.6 278.6 L854.6 278.1 L855.7 279.3 L856.8 281.8 L857.8 281.4 L858.9 280.6 L860.0 280.9 L861.1 280.4 L862.1 278.7 L863.2 275.9 L864.3 274.1 L865.4 272.6 L866.5 272.4 L867.6 273.9 L868.7 271.6 L869.7 271.6 L870.8 271.4 L871.9 269.7 L873.0 269.7 L874.1 267.5 L875.1 269.2 L876.2 266.7 L877.3 266.1 L878.4 264.6 L879.4 264.2 L880.5 263.2 L881.6 265.1 L882.7 265.5 L883.9 268.4 L885.0 268.6 L886.1 267.4 L887.2 273.5 L888.3 275.7 L889.4 280.6 L890.6 289.7 L891.9 298.7 L893.2 295.6 L894.4 290.7 L895.7 287.6 L896.7 286.6 L897.7 285.5 L898.7 284.5 L899.7 280.6 L900.7 280.4 L901.8 278.6 L902.8 277.2 L903.9 274.4 L904.9 273.4 L906.0 272.1 L907.0 272.5 L908.0 272.8 L909.0 273.9 L910.1 272.4 L911.1 271.3 L912.1 271.6 L913.8 271.6" fill="none" stroke="#4472C4" stroke-width="6.30" stroke-linejoin="round" stroke-linecap="butt"/>
<path d="M68.6 321.3 L69.7 319.2 L70.7 319.3 L71.8 319.6 L72.8 317.0 L73.9 316.9 L75.0 315.6 L76.0 314.2 L77.1 314.0 L78.2 315.3 L79.3 313.8 L80.3 314.7 L81.4 314.0 L82.5 312.3 L83.6 311.9 L84.6 311.2 L85.7 310.7 L87.0 310.6 L88.2 309.9 L89.5 306.2 L90.8 311.6 L92.1 314.9 L93.2 319.1 L94.2 322.4 L95.3 324.6 L96.4 322.2 L97.4 323.0 L98.5 323.3 L99.6 321.8 L100.7 318.7 L101.8 319.2 L102.8 318.8 L103.9 318.6 L105.0 318.5 L106.1 318.8 L107.1 317.9 L108.2 316.2 L109.3 315.6 L110.3 315.2 L111.4 315.8 L112.5 314.8 L113.5 314.7 L114.6 313.1 L115.6 312.1 L116.7 312.5 L117.8 311.6 L118.8 311.3 L119.9 309.8 L121.0 306.5 L122.1 305.4 L123.1 303.9 L124.2 302.5 L125.3 301.4 L126.3 300.6 L127.4 301.3 L128.5 302.6 L129.5 303.5 L130.6 304.2 L131.7 302.9 L132.8 300.0 L133.8 298.9 L134.9 297.6 L136.0 299.6 L137.1 300.7 L138.1 303.6 L139.2 305.0 L140.3 303.1 L141.3 302.1 L142.4 299.9 L143.5 295.6 L144.6 295.7 L145.6 294.5 L146.7 295.7 L147.8 293.5 L148.8 291.9 L149.9 293.1 L151.0 291.1 L152.1 288.2 L153.1 288.6 L154.2 288.7 L155.3 286.6 L156.5 283.2 L157.7 283.0 L158.9 280.2 L160.3 283.1 L161.7 285.6 L163.0 291.7 L164.3 294.4 L165.6 289.5 L166.8 285.9 L168.1 283.4 L169.2 281.0 L170.2 274.9 L171.3 271.1 L172.6 267.8 L173.9 267.1 L175.2 264.3 L176.4 267.0 L177.6 270.1 L178.8 271.8 L179.9 271.4 L181.0 269.6 L182.0 269.3 L183.1 271.1 L184.2 272.4 L185.3 273.8 L186.3 273.3 L187.4 276.2 L188.4 283.3 L189.5 289.8 L190.6 287.7 L191.6 285.2 L192.7 281.8 L194.0 278.4 L195.3 274.7 L196.7 280.1 L198.1 283.8 L199.3 283.5 L200.4 280.4 L201.6 278.1 L202.8 275.4 L204.0 273.9 L205.1 274.2 L206.2 273.8 L207.4 273.2 L208.6 272.7 L209.7 275.6 L210.8 277.8 L212.0 279.1 L213.2 283.1 L214.3 285.4 L215.4 286.3 L216.6 289.8 L217.8 289.3 L219.1 289.3 L220.3 289.4 L221.5 291.6 L222.6 292.2 L223.8 296.5 L224.9 298.0 L226.1 302.1 L227.3 305.2 L228.5 310.0 L229.9 317.0 L231.3 324.4 L232.7 330.1 L234.0 338.1 L235.4 336.0 L236.8 333.8 L238.2 328.5 L239.5 325.5 L240.7 326.3 L242.0 326.7 L243.2 325.7 L244.4 326.4 L245.7 329.0 L246.9 333.6 L248.1 333.6 L249.4 332.2 L250.6 330.1 L251.8 332.2 L253.0 334.0 L254.2 335.5 L255.4 333.3 L256.7 329.5 L257.9 324.3 L259.0 323.3 L260.2 321.5 L261.4 317.4 L262.5 315.7 L263.7 315.1 L264.9 312.5 L266.1 310.1 L267.2 310.1 L268.3 310.3 L269.5 312.7 L270.6 311.9 L271.7 312.4 L272.8 308.4 L273.9 306.6 L275.1 305.0 L276.2 303.1 L277.4 304.4 L278.5 302.6 L279.6 301.4 L280.8 301.3 L281.9 299.1 L283.1 299.0 L284.2 295.5 L285.4 293.6 L286.5 294.9 L287.7 293.2 L288.9 292.1 L290.0 291.1 L291.1 290.5 L292.1 290.2 L293.2 291.9 L294.3 289.9 L295.3 289.0 L296.4 291.1 L297.5 291.1 L298.6 289.6 L299.7 288.5 L300.8 287.5 L301.9 285.8 L303.0 288.2 L304.2 290.4 L305.4 293.4 L306.5 295.2 L307.6 294.5 L308.7 291.6 L309.8 292.8 L310.9 289.4 L312.0 288.6 L313.1 287.1 L314.3 284.8 L315.5 286.0 L316.6 284.1 L317.8 284.4 L319.1 285.8 L320.3 286.7 L321.5 291.1 L322.6 296.6 L323.8 301.0 L324.9 297.1 L326.1 295.9 L327.2 293.9 L328.3 292.7 L329.4 290.3 L330.5 288.3 L331.6 287.2 L332.7 289.2 L333.8 287.0 L334.9 285.3 L336.1 285.6 L337.2 284.1 L338.3 283.3 L339.4 284.4 L340.5 281.5 L341.7 281.2 L342.8 280.6 L343.9 278.1 L345.0 276.7 L346.1 274.7 L347.2 273.6 L348.3 273.3 L349.4 272.9 L350.5 273.9 L351.6 274.3 L352.7 276.8 L353.8 277.1 L354.9 277.3 L356.0 276.0 L357.1 276.1 L358.2 274.7 L359.3 273.8 L360.4 273.1 L361.5 272.8 L362.6 274.4 L363.7 273.6 L364.8 275.0 L365.9 276.2 L367.0 274.7 L368.1 272.5 L369.2 273.0 L370.3 271.0 L371.4 269.6 L372.5 267.8 L373.7 269.2 L374.9 269.6 L376.0 267.1 L377.1 267.8 L378.3 268.2 L379.5 268.5 L380.6 271.3 L381.7 272.1 L382.9 273.8 L384.0 274.1 L385.1 273.2 L386.2 273.5 L387.3 271.1 L388.4 271.2 L389.5 270.7 L390.6 268.7 L391.8 269.8 L393.1 271.9 L394.3 272.1 L396.1 280.5 L397.3 283.3 L398.6 286.7 L399.8 287.7 L401.2 294.5 L402.6 298.9 L403.8 292.7 L405.0 287.5 L406.2 283.8 L407.4 287.7 L408.5 290.5 L409.6 293.6 L410.8 294.8 L411.9 294.0 L413.1 292.5 L414.2 289.8 L415.4 289.2 L416.5 286.3 L417.6 285.6 L418.7 284.3 L419.8 280.4 L420.9 277.0 L422.0 276.5 L423.1 275.1 L424.2 274.8 L425.3 277.2 L426.4 278.3 L427.5 277.8 L428.6 279.5 L429.7 278.1 L430.8 280.6 L431.9 280.6 L433.0 281.1 L434.2 280.5 L435.4 279.5 L436.5 281.2 L437.7 285.1 L439.0 289.0 L440.2 292.7 L441.3 293.0 L442.3 289.6 L443.4 289.9 L444.5 287.6 L445.5 288.8 L446.6 288.0 L447.7 285.7 L448.8 285.6 L449.9 287.0 L451.0 287.7 L452.1 287.5 L453.2 285.4 L454.2 284.4 L455.3 283.4 L456.4 281.8 L457.5 282.4 L458.5 280.6 L459.6 279.8 L460.7 280.8 L461.8 281.7 L462.9 283.1 L463.9 280.6 L465.0 282.6 L466.1 280.5 L467.1 279.2 L468.2 279.4 L469.3 280.2 L470.3 277.5 L471.4 276.4 L472.5 277.4 L473.5 277.6 L474.6 275.9 L475.7 274.1 L476.7 274.9 L477.8 272.9 L478.9 272.9 L480.0 271.7 L481.1 271.8 L482.1 272.8 L483.2 273.7 L484.3 275.2 L485.4 275.9 L486.4 275.1 L487.5 275.5 L488.6 275.4 L489.6 275.2 L490.7 275.5 L491.8 277.7 L492.8 278.2 L493.9 278.5 L494.9 278.0 L496.0 275.9 L497.1 279.6 L498.1 282.2 L499.2 285.9 L500.3 288.5 L501.4 287.7 L502.5 285.1 L503.5 285.9 L504.6 285.4 L505.7 285.1 L506.7 283.8 L507.8 284.6 L508.9 284.1 L509.9 283.1 L511.0 284.6 L512.1 283.6 L513.2 282.8 L514.2 282.4 L515.3 279.3 L516.4 277.7 L517.5 275.3 L518.5 275.9 L519.6 276.6 L520.6 275.4 L521.7 273.1 L522.8 274.8 L523.8 274.8 L524.9 274.1 L526.0 276.0 L527.1 275.9 L528.1 276.3 L529.2 277.0 L530.3 277.6 L531.3 279.1 L532.4 279.0 L533.5 279.1 L534.5 280.4 L535.6 282.8 L536.7 281.6 L537.8 280.4 L538.8 279.9 L539.9 279.8 L541.0 278.9 L542.1 279.0 L543.1 279.1 L544.2 280.3 L545.3 277.4 L546.4 276.0 L547.4 274.6 L548.5 274.2 L549.6 275.6 L550.6 273.7 L551.7 273.6 L552.8 273.0 L553.8 274.0 L554.9 273.2 L555.9 274.1 L557.0 273.9 L558.1 273.9 L559.1 273.2 L560.2 270.2 L561.3 268.4 L562.4 270.3 L563.5 268.4 L564.5 266.7 L565.6 267.6 L566.7 267.8 L567.7 266.3 L568.8 266.2 L569.9 265.9 L570.9 265.8 L572.0 265.2 L573.1 266.6 L574.1 270.4 L575.2 272.4 L576.3 276.5 L577.5 277.5 L578.8 274.4 L580.0 275.2 L581.1 276.7 L582.1 276.3 L583.2 277.5 L584.3 277.5 L585.4 279.6 L586.5 279.1 L587.5 280.2 L588.6 279.7 L589.7 280.6 L590.7 278.4 L591.8 279.5 L592.9 277.0 L593.9 276.1 L595.0 276.4 L596.1 276.0 L597.1 277.3 L598.2 275.9 L599.3 278.1 L600.3 277.7 L601.4 279.0 L602.5 275.7 L603.5 274.2 L604.6 273.1 L605.7 273.6 L606.7 273.4 L607.8 270.7 L608.9 270.2 L610.0 270.0 L611.0 269.1 L612.1 269.0 L613.2 271.4 L614.3 271.2 L615.3 274.2 L616.4 274.8 L617.4 274.8 L618.5 275.8 L619.6 276.3 L620.7 279.0 L621.7 279.7 L622.8 281.9 L623.9 283.2 L625.0 285.9 L626.0 286.4 L627.1 290.0 L628.1 291.0 L629.2 293.4 L630.3 294.6 L631.4 295.1 L632.5 293.5 L633.5 292.0 L634.6 291.1 L635.7 290.7 L636.8 292.0 L637.8 290.3 L638.9 288.3 L640.0 289.3 L641.0 289.0 L642.1 289.4 L643.2 290.7 L644.2 290.5 L645.3 291.8 L646.3 294.9 L647.4 295.9 L648.5 298.0 L649.6 299.6 L650.6 300.1 L651.7 300.6 L652.8 303.2 L653.9 300.3 L654.9 299.4 L656.0 299.2 L657.0 295.1 L658.1 294.9 L659.2 294.2 L660.3 294.9 L661.4 292.7 L662.4 291.3 L663.5 289.5 L664.6 290.2 L665.7 288.7 L666.7 288.2 L667.8 288.5 L668.9 291.1 L670.0 292.6 L671.0 292.3 L672.1 292.3 L673.2 290.3 L674.2 290.2 L675.3 290.8 L676.4 288.7 L677.4 286.4 L678.5 285.1 L679.6 284.5 L680.6 283.3 L681.7 282.2 L682.8 281.8 L683.8 282.6 L684.9 281.5 L686.0 280.3 L687.0 280.3 L688.1 279.0 L689.2 281.0 L690.3 279.0 L691.4 279.8 L692.4 281.0 L693.5 281.3 L694.6 279.8 L695.6 282.1 L696.7 282.4 L697.8 284.2 L698.8 283.0 L699.9 284.1 L701.0 285.4 L702.0 282.9 L703.1 284.0 L704.2 283.1 L705.2 282.0 L706.3 280.2 L707.5 279.9 L708.6 277.9 L709.8 276.5 L711.0 275.1 L712.1 274.1 L713.2 274.7 L714.2 273.7 L715.3 274.5 L716.4 272.1 L717.5 271.0 L718.5 271.9 L719.6 271.5 L720.7 269.3 L721.7 269.5 L722.8 268.4 L723.9 270.1 L724.9 269.9 L726.0 269.5 L727.1 267.8 L728.2 268.6 L729.2 268.7 L730.3 268.1 L731.4 266.7 L732.5 266.7 L733.5 264.7 L734.6 262.4 L735.7 261.6 L736.7 260.6 L737.8 260.7 L738.9 258.7 L740.0 259.4 L741.0 257.1 L742.1 256.9 L743.2 255.7 L744.3 256.9 L745.4 256.2 L746.4 254.5 L747.5 253.5 L748.6 252.9 L749.6 253.6 L750.7 252.7 L751.8 254.1 L752.8 253.7 L753.9 251.1 L755.0 248.8 L756.0 247.3 L757.1 247.6 L758.2 247.2 L759.2 247.5 L760.3 247.5 L761.4 249.4 L762.4 247.7 L763.5 249.5 L764.8 245.4 L766.1 241.4 L767.4 235.5 L768.6 238.0 L769.8 241.0 L771.0 245.3 L772.1 244.2 L773.2 241.8 L774.2 241.0 L775.3 242.9 L776.4 240.3 L777.5 242.4 L778.5 244.9 L779.6 245.1 L780.7 246.0 L781.7 247.0 L782.8 246.5 L783.9 247.4 L784.9 249.8 L786.0 249.6 L787.0 248.9 L788.1 251.1 L789.2 253.7 L790.2 255.3 L791.3 257.2 L792.4 257.6 L793.5 257.7 L794.5 258.2 L795.6 255.9 L796.7 255.6 L797.8 255.0 L798.8 254.3 L799.9 255.0 L801.0 254.8 L802.0 255.4 L803.1 257.5 L804.2 258.8 L805.2 260.6 L806.3 260.8 L807.4 261.4 L808.5 264.0 L809.5 264.1 L810.6 263.2 L811.7 266.2 L812.8 266.4 L813.8 266.3 L814.9 266.3 L816.0 266.2 L817.0 265.9 L818.1 263.5 L819.2 263.5 L820.2 264.2 L821.3 268.3 L822.3 263.8 L823.3 260.6 L824.3 259.9 L825.3 255.8 L826.3 256.0 L827.3 253.9 L828.3 252.2 L829.4 252.7 L830.4 253.4 L831.4 251.3 L832.5 252.9 L833.5 252.8 L834.6 252.5 L835.7 251.4 L836.8 249.8 L837.8 250.2 L838.9 251.3 L840.0 252.4 L841.0 253.6 L842.0 256.0 L843.1 256.1 L844.2 256.9 L845.2 259.5 L846.2 259.0 L847.2 257.9 L848.3 254.9 L849.3 254.0 L850.3 254.3 L851.4 253.8 L852.4 257.0 L853.5 258.0 L854.6 260.5 L855.7 259.6 L856.7 260.6 L857.8 261.0 L858.9 260.7 L860.0 261.2 L861.1 259.2 L862.1 258.7 L863.2 259.3 L864.3 258.2 L865.4 256.5 L866.5 254.6 L867.6 255.9 L868.7 256.5 L869.7 254.0 L870.8 252.6 L871.9 253.8 L873.0 252.2 L874.0 251.0 L875.0 251.1 L876.0 251.8 L877.0 249.3 L878.0 249.4 L879.3 245.5 L880.5 244.6 L881.8 240.8 L882.9 243.0 L884.0 244.1 L885.0 245.6 L886.1 248.3 L887.2 250.6 L888.3 256.9 L889.4 260.5 L890.6 273.8 L891.9 285.5 L893.1 278.7 L894.4 271.9 L895.4 271.2 L896.4 268.6 L897.5 268.7 L898.5 268.1 L899.5 267.2 L900.8 263.3 L902.0 262.1 L903.3 260.6 L904.5 259.5 L905.8 255.8 L907.0 254.6 L908.3 251.5 L909.5 250.8 L910.8 249.2 L911.8 246.4 L912.8 244.6 L913.8 243.4" fill="none" stroke="#70AD47" stroke-width="6.30" stroke-linejoin="round" stroke-linecap="butt"/>
<rect x="9.0" y="485.6" width="33.5" height="5.8" fill="#5B9BD5"/>
<rect x="9.0" y="523.1" width="33.5" height="5.8" fill="#A5A5A5"/>
<rect x="9.0" y="566.6" width="33.5" height="5.8" fill="#4472C4"/>
<rect x="492.5" y="485.6" width="33.5" height="5.8" fill="#ED7D31"/>
<rect x="492.5" y="523.1" width="33.5" height="5.8" fill="#FFC000"/>
<rect x="492.5" y="566.6" width="33.5" height="5.8" fill="#70AD47"/>
<rect x="6.45" y="626.75" width="3.50" height="3.50" rx="0.90" fill="#111111"/>
<rect x="13.61" y="626.75" width="3.50" height="3.50" rx="0.90" fill="#111111"/>
<rect x="20.77" y="626.75" width="3.50" height="3.50" rx="0.90" fill="#111111"/>
<rect x="27.93" y="626.75" width="3.50" height="3.50" rx="0.90" fill="#111111"/>
<rect x="35.09" y="626.75" width="3.50" height="3.50" rx="0.90" fill="#111111"/>
<rect x="42.25" y="626.75" width="3.50" height="3.50" rx="0.90" fill="#111111"/>
<rect x="49.41" y="626.75" width="3.50" height="3.50" rx="0.90" fill="#111111"/>
<rect x="56.57" y="626.75" width="3.50" height="3.50" rx="0.90" fill="#111111"/>
<rect x="63.73" y="626.75" width="3.50" height="3.50" rx="0.90" fill="#111111"/>
<rect x="70.89" y="626.75" width="3.50" height="3.50" rx="0.90" fill="#111111"/>
<rect x="78.05" y="626.75" width="3.50" height="3.50" rx="0.90" fill="#111111"/>
<rect x="85.21" y="626.75" width="3.50" height="3.50" rx="0.90" fill="#111111"/>
<rect x="92.37" y="626.75" width="3.50" height="3.50" rx="0.90" fill="#111111"/>
<rect x="99.53" y="626.75" width="3.50" height="3.50" rx="0.90" fill="#111111"/>
<rect x="106.69" y="626.75" width="3.50" height="3.50" rx="0.90" fill="#111111"/>
<rect x="113.85" y="626.75" width="3.50" height="3.50" rx="0.90" fill="#111111"/>
<rect x="121.01" y="626.75" width="3.50" height="3.50" rx="0.90" fill="#111111"/>
<rect x="128.16" y="626.75" width="3.50" height="3.50" rx="0.90" fill="#111111"/>
<rect x="135.32" y="626.75" width="3.50" height="3.50" rx="0.90" fill="#111111"/>
<rect x="142.48" y="626.75" width="3.50" height="3.50" rx="0.90" fill="#111111"/>
<rect x="149.64" y="626.75" width="3.50" height="3.50" rx="0.90" fill="#111111"/>
<rect x="156.80" y="626.75" width="3.50" height="3.50" rx="0.90" fill="#111111"/>
<rect x="163.96" y="626.75" width="3.50" height="3.50" rx="0.90" fill="#111111"/>
<rect x="171.12" y="626.75" width="3.50" height="3.50" rx="0.90" fill="#111111"/>
<rect x="178.28" y="626.75" width="3.50" height="3.50" rx="0.90" fill="#111111"/>
<rect x="185.44" y="626.75" width="3.50" height="3.50" rx="0.90" fill="#111111"/>
<rect x="192.60" y="626.75" width="3.50" height="3.50" rx="0.90" fill="#111111"/>
<rect x="199.76" y="626.75" width="3.50" height="3.50" rx="0.90" fill="#111111"/>
<rect x="206.92" y="626.75" width="3.50" height="3.50" rx="0.90" fill="#111111"/>
<rect x="214.08" y="626.75" width="3.50" height="3.50" rx="0.90" fill="#111111"/>
<rect x="221.24" y="626.75" width="3.50" height="3.50" rx="0.90" fill="#111111"/>
<rect x="228.40" y="626.75" width="3.50" height="3.50" rx="0.90" fill="#111111"/>
<rect x="235.56" y="626.75" width="3.50" height="3.50" rx="0.90" fill="#111111"/>
<rect x="242.72" y="626.75" width="3.50" height="3.50" rx="0.90" fill="#111111"/>
<rect x="249.88" y="626.75" width="3.50" height="3.50" rx="0.90" fill="#111111"/>
<rect x="257.04" y="626.75" width="3.50" height="3.50" rx="0.90" fill="#111111"/>
<rect x="264.20" y="626.75" width="3.50" height="3.50" rx="0.90" fill="#111111"/>
<rect x="271.36" y="626.75" width="3.50" height="3.50" rx="0.90" fill="#111111"/>
<rect x="278.52" y="626.75" width="3.50" height="3.50" rx="0.90" fill="#111111"/>
<rect x="285.68" y="626.75" width="3.50" height="3.50" rx="0.90" fill="#111111"/>
<rect x="292.84" y="626.75" width="3.50" height="3.50" rx="0.90" fill="#111111"/>
<rect x="300.00" y="626.75" width="3.50" height="3.50" rx="0.90" fill="#111111"/>
<rect x="307.16" y="626.75" width="3.50" height="3.50" rx="0.90" fill="#111111"/>
<rect x="314.32" y="626.75" width="3.50" height="3.50" rx="0.90" fill="#111111"/>
<rect x="321.48" y="626.75" width="3.50" height="3.50" rx="0.90" fill="#111111"/>
<rect x="328.64" y="626.75" width="3.50" height="3.50" rx="0.90" fill="#111111"/>
<rect x="335.80" y="626.75" width="3.50" height="3.50" rx="0.90" fill="#111111"/>
<rect x="342.96" y="626.75" width="3.50" height="3.50" rx="0.90" fill="#111111"/>
<rect x="350.12" y="626.75" width="3.50" height="3.50" rx="0.90" fill="#111111"/>
<rect x="357.27" y="626.75" width="3.50" height="3.50" rx="0.90" fill="#111111"/>
<rect x="364.43" y="626.75" width="3.50" height="3.50" rx="0.90" fill="#111111"/>
<rect x="371.59" y="626.75" width="3.50" height="3.50" rx="0.90" fill="#111111"/>
<rect x="378.75" y="626.75" width="3.50" height="3.50" rx="0.90" fill="#111111"/>
<rect x="385.91" y="626.75" width="3.50" height="3.50" rx="0.90" fill="#111111"/>
<rect x="393.07" y="626.75" width="3.50" height="3.50" rx="0.90" fill="#111111"/>
<rect x="400.23" y="626.75" width="3.50" height="3.50" rx="0.90" fill="#111111"/>
<rect x="407.39" y="626.75" width="3.50" height="3.50" rx="0.90" fill="#111111"/>
<rect x="414.55" y="626.75" width="3.50" height="3.50" rx="0.90" fill="#111111"/>
<rect x="421.71" y="626.75" width="3.50" height="3.50" rx="0.90" fill="#111111"/>
<rect x="428.87" y="626.75" width="3.50" height="3.50" rx="0.90" fill="#111111"/>
<rect x="436.03" y="626.75" width="3.50" height="3.50" rx="0.90" fill="#111111"/>
<rect x="443.19" y="626.75" width="3.50" height="3.50" rx="0.90" fill="#111111"/>
<rect x="450.35" y="626.75" width="3.50" height="3.50" rx="0.90" fill="#111111"/>
<rect x="457.51" y="626.75" width="3.50" height="3.50" rx="0.90" fill="#111111"/>
<rect x="464.67" y="626.75" width="3.50" height="3.50" rx="0.90" fill="#111111"/>
<rect x="471.83" y="626.75" width="3.50" height="3.50" rx="0.90" fill="#111111"/>
<rect x="478.99" y="626.75" width="3.50" height="3.50" rx="0.90" fill="#111111"/>
<rect x="486.15" y="626.75" width="3.50" height="3.50" rx="0.90" fill="#111111"/>
<rect x="493.31" y="626.75" width="3.50" height="3.50" rx="0.90" fill="#111111"/>
<rect x="500.47" y="626.75" width="3.50" height="3.50" rx="0.90" fill="#111111"/>
<rect x="507.63" y="626.75" width="3.50" height="3.50" rx="0.90" fill="#111111"/>
<rect x="514.79" y="626.75" width="3.50" height="3.50" rx="0.90" fill="#111111"/>
<rect x="521.95" y="626.75" width="3.50" height="3.50" rx="0.90" fill="#111111"/>
<rect x="529.11" y="626.75" width="3.50" height="3.50" rx="0.90" fill="#111111"/>
<rect x="536.27" y="626.75" width="3.50" height="3.50" rx="0.90" fill="#111111"/>
<rect x="543.43" y="626.75" width="3.50" height="3.50" rx="0.90" fill="#111111"/>
<rect x="550.59" y="626.75" width="3.50" height="3.50" rx="0.90" fill="#111111"/>
<rect x="557.75" y="626.75" width="3.50" height="3.50" rx="0.90" fill="#111111"/>
<rect x="564.91" y="626.75" width="3.50" height="3.50" rx="0.90" fill="#111111"/>
<rect x="572.07" y="626.75" width="3.50" height="3.50" rx="0.90" fill="#111111"/>
<rect x="579.23" y="626.75" width="3.50" height="3.50" rx="0.90" fill="#111111"/>
<rect x="586.38" y="626.75" width="3.50" height="3.50" rx="0.90" fill="#111111"/>
<rect x="593.54" y="626.75" width="3.50" height="3.50" rx="0.90" fill="#111111"/>
<rect x="600.70" y="626.75" width="3.50" height="3.50" rx="0.90" fill="#111111"/>
<rect x="607.86" y="626.75" width="3.50" height="3.50" rx="0.90" fill="#111111"/>
<rect x="615.02" y="626.75" width="3.50" height="3.50" rx="0.90" fill="#111111"/>
<rect x="622.18" y="626.75" width="3.50" height="3.50" rx="0.90" fill="#111111"/>
<rect x="629.34" y="626.75" width="3.50" height="3.50" rx="0.90" fill="#111111"/>
<rect x="636.50" y="626.75" width="3.50" height="3.50" rx="0.90" fill="#111111"/>
<rect x="643.66" y="626.75" width="3.50" height="3.50" rx="0.90" fill="#111111"/>
<rect x="650.82" y="626.75" width="3.50" height="3.50" rx="0.90" fill="#111111"/>
<rect x="657.98" y="626.75" width="3.50" height="3.50" rx="0.90" fill="#111111"/>
<rect x="665.14" y="626.75" width="3.50" height="3.50" rx="0.90" fill="#111111"/>
<rect x="672.30" y="626.75" width="3.50" height="3.50" rx="0.90" fill="#111111"/>
<rect x="679.46" y="626.75" width="3.50" height="3.50" rx="0.90" fill="#111111"/>
<rect x="686.62" y="626.75" width="3.50" height="3.50" rx="0.90" fill="#111111"/>
<rect x="693.78" y="626.75" width="3.50" height="3.50" rx="0.90" fill="#111111"/>
<rect x="700.94" y="626.75" width="3.50" height="3.50" rx="0.90" fill="#111111"/>
<rect x="708.10" y="626.75" width="3.50" height="3.50" rx="0.90" fill="#111111"/>
<rect x="715.26" y="626.75" width="3.50" height="3.50" rx="0.90" fill="#111111"/>
<rect x="722.42" y="626.75" width="3.50" height="3.50" rx="0.90" fill="#111111"/>
<rect x="729.58" y="626.75" width="3.50" height="3.50" rx="0.90" fill="#111111"/>
<rect x="736.74" y="626.75" width="3.50" height="3.50" rx="0.90" fill="#111111"/>
<rect x="743.90" y="626.75" width="3.50" height="3.50" rx="0.90" fill="#111111"/>
<rect x="751.06" y="626.75" width="3.50" height="3.50" rx="0.90" fill="#111111"/>
<rect x="758.22" y="626.75" width="3.50" height="3.50" rx="0.90" fill="#111111"/>
<rect x="765.38" y="626.75" width="3.50" height="3.50" rx="0.90" fill="#111111"/>
<rect x="772.54" y="626.75" width="3.50" height="3.50" rx="0.90" fill="#111111"/>
<rect x="779.70" y="626.75" width="3.50" height="3.50" rx="0.90" fill="#111111"/>
<rect x="786.86" y="626.75" width="3.50" height="3.50" rx="0.90" fill="#111111"/>
<rect x="794.02" y="626.75" width="3.50" height="3.50" rx="0.90" fill="#111111"/>
<rect x="801.18" y="626.75" width="3.50" height="3.50" rx="0.90" fill="#111111"/>
<rect x="808.34" y="626.75" width="3.50" height="3.50" rx="0.90" fill="#111111"/>
<rect x="815.49" y="626.75" width="3.50" height="3.50" rx="0.90" fill="#111111"/>
<rect x="822.65" y="626.75" width="3.50" height="3.50" rx="0.90" fill="#111111"/>
<rect x="829.81" y="626.75" width="3.50" height="3.50" rx="0.90" fill="#111111"/>
<rect x="836.97" y="626.75" width="3.50" height="3.50" rx="0.90" fill="#111111"/>
<rect x="844.13" y="626.75" width="3.50" height="3.50" rx="0.90" fill="#111111"/>
<rect x="851.29" y="626.75" width="3.50" height="3.50" rx="0.90" fill="#111111"/>
<rect x="858.45" y="626.75" width="3.50" height="3.50" rx="0.90" fill="#111111"/>
<rect x="865.61" y="626.75" width="3.50" height="3.50" rx="0.90" fill="#111111"/>
<rect x="872.77" y="626.75" width="3.50" height="3.50" rx="0.90" fill="#111111"/>
<rect x="879.93" y="626.75" width="3.50" height="3.50" rx="0.90" fill="#111111"/>
<rect x="887.09" y="626.75" width="3.50" height="3.50" rx="0.90" fill="#111111"/>
<rect x="894.25" y="626.75" width="3.50" height="3.50" rx="0.90" fill="#111111"/>
<rect x="901.41" y="626.75" width="3.50" height="3.50" rx="0.90" fill="#111111"/>
<rect x="908.57" y="626.75" width="3.50" height="3.50" rx="0.90" fill="#111111"/>
<rect x="915.73" y="626.75" width="3.50" height="3.50" rx="0.90" fill="#111111"/>
<rect x="922.89" y="626.75" width="3.50" height="3.50" rx="0.90" fill="#111111"/>
<rect x="930.05" y="626.75" width="3.50" height="3.50" rx="0.90" fill="#111111"/>
</svg>
<div class="t ylab" style="left:0;width:45.8px;top:139.2px;">400</div>
<div class="t ylab" style="left:0;width:45.8px;top:168.3px;">350</div>
<div class="t ylab" style="left:0;width:45.8px;top:197.4px;">300</div>
<div class="t ylab" style="left:0;width:45.8px;top:225.6px;">250</div>
<div class="t ylab" style="left:0;width:45.8px;top:254.2px;">200</div>
<div class="t ylab" style="left:0;width:45.8px;top:282.6px;">150</div>
<div class="t ylab" style="left:0;width:45.8px;top:311.2px;">100</div>
<div class="t ylab" style="left:0;width:45.8px;top:340.1px;">50</div>
<div class="t ylab" style="left:0;width:45.8px;top:367.7px;">0</div>
<div class="t xlab" style="left:10.0px;top:395.0px;">Dec<br>2005</div>
<div class="t xlab" style="left:175.2px;top:395.0px;">Nov<br>2018</div>
<div class="t xlab" style="left:342.8px;top:395.0px;">Oct<br>2011</div>
<div class="t xlab" style="left:513.0px;top:395.0px;">Sep<br>2014</div>
<div class="t xlab" style="left:682.5px;top:395.0px;">Aug<br>2017</div>
<div class="t xlab" style="left:851.5px;top:395.0px;">Jul<br>2020</div>
<div class="t leg" style="left:56.0px;top:477.9px;">FTSE Globa Infrasctructure Index</div>
<div class="t leg" style="left:56.0px;top:516.2px;">FTSE All-Share</div>
<div class="t leg" style="left:56.0px;top:561.0px;">Nikkei 225</div>
<div class="t leg" style="left:534.0px;top:477.9px;">S&amp;P 500</div>
<div class="t leg" style="left:534.0px;top:516.2px;">Stoxx Europe</div>
<div class="t leg" style="left:534.0px;top:561.0px;">MSCI Emerging Markets</div>
<div class="t src" style="left:16.5px;top:595.6px;transform:scaleX(1.0000);">Source: Refinitiv data</div>
</div></body></html>
